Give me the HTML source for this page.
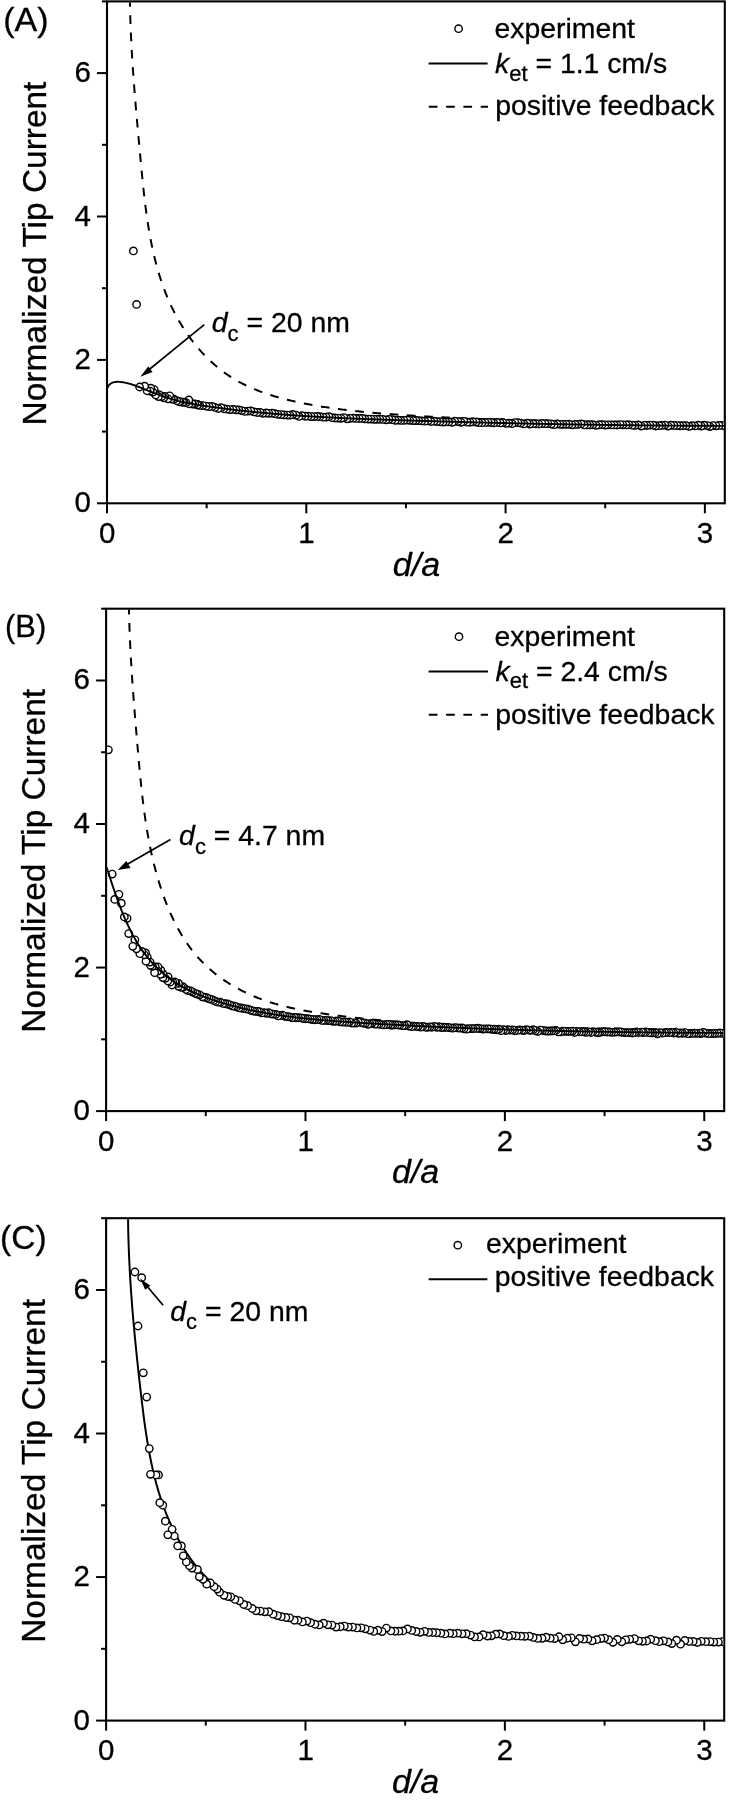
<!DOCTYPE html>
<html><head><meta charset="utf-8"><style>html,body{margin:0;padding:0;background:#fff;}svg{display:block;filter:grayscale(1);} text{stroke:#000;stroke-width:0.3px;}</style></head><body>
<svg width="729" height="1800" viewBox="0 0 729 1800" font-family='"Liberation Sans", sans-serif'>
<rect width="100%" height="100%" fill="#fff"/>
<clipPath id="clipA"><rect x="108" y="2.4" width="615.8" height="499.9"/></clipPath>
<clipPath id="clipB"><rect x="107.1" y="609.7" width="616.1" height="500.4"/></clipPath>
<clipPath id="clipC"><rect x="107.1" y="1219.2" width="616.1" height="500.4"/></clipPath>
<rect x="107" y="1.4" width="617.8" height="501.9" fill="none" stroke="#000" stroke-width="2.1"/>
<line x1="97" y1="503.3" x2="107" y2="503.3" stroke="#000" stroke-width="2"/>
<text x="90.8" y="512.3" font-size="29.5" text-anchor="end">0</text>
<line x1="102" y1="431.6" x2="107" y2="431.6" stroke="#000" stroke-width="2"/>
<line x1="97" y1="359.9" x2="107" y2="359.9" stroke="#000" stroke-width="2"/>
<text x="90.8" y="368.9" font-size="29.5" text-anchor="end">2</text>
<line x1="102" y1="288.2" x2="107" y2="288.2" stroke="#000" stroke-width="2"/>
<line x1="97" y1="216.5" x2="107" y2="216.5" stroke="#000" stroke-width="2"/>
<text x="90.8" y="225.5" font-size="29.5" text-anchor="end">4</text>
<line x1="102" y1="144.8" x2="107" y2="144.8" stroke="#000" stroke-width="2"/>
<line x1="97" y1="73.1" x2="107" y2="73.1" stroke="#000" stroke-width="2"/>
<text x="90.8" y="82.1" font-size="29.5" text-anchor="end">6</text>
<line x1="102" y1="1.4" x2="107" y2="1.4" stroke="#000" stroke-width="2"/>
<line x1="107" y1="503.3" x2="107" y2="513.3" stroke="#000" stroke-width="2"/>
<text x="107.2" y="542.7" font-size="29.5" text-anchor="middle">0</text>
<line x1="206.65" y1="503.3" x2="206.65" y2="508.3" stroke="#000" stroke-width="2"/>
<line x1="306.29" y1="503.3" x2="306.29" y2="513.3" stroke="#000" stroke-width="2"/>
<text x="306.49" y="542.7" font-size="29.5" text-anchor="middle">1</text>
<line x1="405.94" y1="503.3" x2="405.94" y2="508.3" stroke="#000" stroke-width="2"/>
<line x1="505.58" y1="503.3" x2="505.58" y2="513.3" stroke="#000" stroke-width="2"/>
<text x="505.78" y="542.7" font-size="29.5" text-anchor="middle">2</text>
<line x1="605.23" y1="503.3" x2="605.23" y2="508.3" stroke="#000" stroke-width="2"/>
<line x1="704.87" y1="503.3" x2="704.87" y2="513.3" stroke="#000" stroke-width="2"/>
<text x="705.07" y="542.7" font-size="29.5" text-anchor="middle">3</text>
<text transform="translate(45.8,253.5) rotate(-90)" font-size="33.45" text-anchor="middle">Normalized Tip Current</text>
<text x="416.5" y="575.5" font-size="34" font-style="italic" text-anchor="middle">d/a</text>
<text x="3.3" y="31.3" font-size="34">(A)</text>
<g clip-path="url(#clipA)">
<path d="M129.89,0.79L129.92,2.34L129.95,3.88L129.98,5.43L130.02,6.97L130.05,8.51L130.09,10.05L130.13,11.58L130.17,13.12L130.21,14.65L130.26,16.18L130.3,17.71L130.35,19.24L130.4,20.77L130.46,22.3L130.51,23.82L130.57,25.35L130.63,26.87L130.69,28.39L130.75,29.91L130.81,31.43L130.88,32.94L130.94,34.46L131.01,35.97L131.08,37.49L131.15,39L131.23,40.51L131.3,42.02L131.38,43.53L131.46,45.04L131.54,46.55L131.62,48.05L131.7,49.56L131.78,51.06L131.87,52.57L131.96,54.07L132.04,55.57L132.13,57.07L132.23,58.57L132.32,60.07L132.41,61.57L132.51,63.07L132.6,64.57L132.7,66.07L132.8,67.56L132.9,69.06L133,70.55L133.11,72.05L133.21,73.54L133.32,75.04L133.42,76.53L133.53,78.02L133.64,79.51L133.75,81.01L133.86,82.5L133.97,83.99L134.09,85.48L134.2,86.97L134.31,88.46L134.43,89.95L134.55,91.44L134.67,92.93L134.78,94.42L134.9,95.91L135.03,97.4L135.15,98.89L135.27,100.38L135.39,101.87L135.52,103.36L135.64,104.85L135.77,106.34L135.89,107.83L136.02,109.32L136.15,110.81L136.28,112.3L136.41,113.79L136.54,115.28L136.67,116.77L136.8,118.27L136.93,119.76L137.06,121.25L137.2,122.74L137.33,124.23L137.46,125.73L137.6,127.22L137.73,128.72L137.87,130.21L138.01,131.71L138.14,133.2L138.28,134.7L138.42,136.19L138.55,137.69L138.69,139.19L138.83,140.69L138.97,142.19L139.11,143.69L139.25,145.19L139.39,146.69L139.53,148.19L139.67,149.7L139.81,151.2L139.95,152.71L140.09,154.21L140.23,155.72L140.37,157.23L140.51,158.74L140.65,160.25L140.79,161.76L140.93,163.27L141.07,164.79L141.22,166.3L141.36,167.81L141.5,169.33L141.65,170.85L141.79,172.36L141.94,173.88L142.09,175.4L142.23,176.92L142.38,178.43L142.53,179.95L142.69,181.47L142.84,182.99L143,184.51L143.15,186.03L143.31,187.55L143.47,189.07L143.64,190.59L143.8,192.11L143.97,193.63L144.14,195.15L144.31,196.67L144.49,198.19L144.67,199.71L144.85,201.23L145.03,202.75L145.21,204.27L145.4,205.78L145.6,207.3L145.79,208.82L145.99,210.33L146.19,211.85L146.4,213.36L146.61,214.87L146.82,216.39L147.04,217.9L147.26,219.41L147.48,220.92L147.71,222.43L147.95,223.93L148.18,225.44L148.42,226.94L148.67,228.45L148.92,229.95L149.18,231.45L149.44,232.95L149.7,234.45L149.97,235.94L150.25,237.44L150.53,238.93L150.82,240.42L151.11,241.91L151.4,243.4L151.71,244.89L152.01,246.37L152.33,247.85L152.65,249.33L152.97,250.81L153.3,252.29L153.64,253.76L153.99,255.23L154.34,256.7L154.69,258.17L155.06,259.63L155.43,261.1L155.81,262.56L156.19,264.01L156.58,265.47L156.98,266.92L157.38,268.37L157.8,269.82L158.22,271.26L158.64,272.7L159.08,274.14L159.52,275.58L159.97,277.01L160.43,278.44L160.89,279.86L161.37,281.29L161.85,282.71L162.34,284.12L162.84,285.54L163.35,286.95L163.86,288.35L164.39,289.76L164.92,291.16L165.46,292.55L166.01,293.94L166.57,295.33L167.14,296.72L167.72,298.1L168.31,299.48L168.9,300.85L169.51,302.22L170.13,303.59L170.75,304.95L171.39,306.31L172.03,307.66L172.69,309.01L173.35,310.35L174.03,311.7L174.72,313.03L175.41,314.36L176.12,315.69L176.84,317.02L177.56,318.33L178.3,319.65L179.05,320.95L179.81,322.26L180.58,323.55L181.35,324.84L182.14,326.13L182.94,327.41L183.75,328.68L184.57,329.95L185.4,331.2L186.24,332.46L187.09,333.7L187.95,334.94L188.82,336.17L189.7,337.4L190.59,338.61L191.49,339.82L192.4,341.02L193.32,342.21L194.25,343.4L195.19,344.57L196.14,345.74L197.1,346.9L198.07,348.05L199.04,349.19L200.03,350.32L201.03,351.44L202.04,352.55L203.06,353.65L204.09,354.74L205.12,355.82L206.17,356.89L207.23,357.95L208.3,359L209.37,360.04L210.46,361.07L211.55,362.09L212.66,363.09L213.77,364.09L214.9,365.07L216.03,366.04L217.18,367L218.33,367.94L219.49,368.88L220.66,369.8L221.84,370.7L223.03,371.6L224.23,372.48L225.44,373.35L226.66,374.21L227.89,375.05L229.13,375.88L230.38,376.69L231.63,377.49L232.9,378.28L234.17,379.05L235.45,379.81L236.75,380.55L238.05,381.29L239.35,382.01L240.67,382.71L242,383.4L243.33,384.09L244.67,384.75L246.01,385.41L247.37,386.05L248.73,386.69L250.1,387.31L251.47,387.91L252.86,388.51L254.24,389.1L255.64,389.67L257.04,390.23L258.45,390.79L259.86,391.33L261.28,391.86L262.7,392.38L264.13,392.89L265.56,393.39L267,393.88L268.44,394.37L269.89,394.84L271.34,395.3L272.8,395.75L274.26,396.2L275.72,396.63L277.19,397.06L278.66,397.48L280.14,397.89L281.61,398.29L283.1,398.69L284.58,399.07L286.06,399.45L287.55,399.82L289.04,400.18L290.54,400.54L292.03,400.89L293.53,401.23L295.03,401.57L296.53,401.9L298.03,402.22L299.53,402.54L301.04,402.85L302.54,403.15L304.04,403.45L305.55,403.75L307.06,404.04L308.56,404.32L310.07,404.6L311.57,404.87L313.08,405.14L314.58,405.4L316.09,405.66L317.59,405.92L319.09,406.17L320.6,406.41L322.1,406.66L323.6,406.89L325.1,407.13L326.6,407.36L328.1,407.58L329.6,407.8L331.1,408.02L332.6,408.23L334.1,408.44L335.6,408.65L337.1,408.85L338.6,409.05L340.1,409.24L341.6,409.44L343.1,409.62L344.6,409.81L346.09,409.99L347.59,410.17L349.09,410.34L350.59,410.52L352.08,410.68L353.58,410.85L355.08,411.01L356.57,411.17L358.07,411.33L359.57,411.48L361.06,411.64L362.56,411.78L364.06,411.93L365.55,412.07L367.05,412.22L368.55,412.36L370.04,412.49L371.54,412.63L373.04,412.76L374.53,412.89L376.03,413.02L377.52,413.14L379.02,413.27L380.52,413.39L382.02,413.51L383.51,413.63L385.01,413.74L386.51,413.86L388,413.97L389.5,414.09L391,414.2L392.5,414.3L393.99,414.41L395.49,414.52L396.99,414.62L398.49,414.73L399.99,414.83L401.49,414.93L402.99,415.03L404.49,415.13L405.99,415.23L407.49,415.33L408.99,415.43L410.49,415.52L411.99,415.62L413.49,415.71L414.99,415.8L416.49,415.89L418,415.98L419.5,416.07L421,416.16L422.5,416.25L424.01,416.34L425.51,416.42L427.01,416.51L428.51,416.59L430.02,416.67L431.52,416.75L433.03,416.83L434.53,416.91L436.03,416.99L437.54,417.07L439.04,417.15L440.55,417.22L442.05,417.3L443.56,417.37L445.06,417.45L446.57,417.52L448.08,417.59L449.58,417.66L451.09,417.73L452.59,417.8L454.1,417.87L455.61,417.94L457.11,418L458.62,418.07L460.13,418.13L461.63,418.2L463.14,418.26L464.65,418.32L466.16,418.38L467.67,418.45L469.17,418.51L470.68,418.57L472.19,418.62L473.7,418.68L475.21,418.74L476.72,418.8L478.22,418.85L479.73,418.91L481.24,418.96L482.75,419.01L484.26,419.07L485.77,419.12L487.28,419.17L488.79,419.22L490.3,419.27L491.81,419.32L493.32,419.37L494.83,419.42L496.34,419.47L497.85,419.51L499.36,419.56L500.87,419.61L502.38,419.65L503.89,419.7L505.41,419.74L506.92,419.79L508.43,419.83L509.94,419.87L511.45,419.91L512.96,419.95L514.47,419.99L515.99,420.04L517.5,420.07L519.01,420.11L520.52,420.15L522.03,420.19L523.54,420.23L525.06,420.27L526.57,420.3L528.08,420.34L529.59,420.37L531.11,420.41L532.62,420.45L534.13,420.48L535.64,420.51L537.16,420.55L538.67,420.58L540.18,420.61L541.69,420.65L543.21,420.68L544.72,420.71L546.23,420.74L547.75,420.77L549.26,420.8L550.77,420.83L552.28,420.86L553.8,420.89L555.31,420.92L556.82,420.95L558.34,420.98L559.85,421.01L561.36,421.03L562.88,421.06L564.39,421.09L565.9,421.11L567.42,421.14L568.93,421.17L570.44,421.19L571.96,421.22L573.47,421.25L574.98,421.27L576.5,421.3L578.01,421.32L579.52,421.35L581.04,421.37L582.55,421.39L584.06,421.42L585.58,421.44L587.09,421.47L588.6,421.49L590.11,421.51L591.63,421.54L593.14,421.56L594.65,421.58L596.17,421.6L597.68,421.63L599.19,421.65L600.71,421.67L602.22,421.69L603.73,421.72L605.25,421.74L606.76,421.76L608.27,421.78L609.78,421.81L611.3,421.83L612.81,421.85L614.32,421.87L615.83,421.89L617.35,421.91L618.86,421.94L620.37,421.96L621.88,421.98L623.4,422L624.91,422.02L626.42,422.04L627.93,422.07L629.44,422.09L630.96,422.11L632.47,422.13L633.98,422.15L635.49,422.17L637,422.2L638.52,422.22L640.03,422.24L641.54,422.26L643.05,422.28L644.56,422.31L646.07,422.33L647.58,422.35L649.09,422.37L650.6,422.4L652.11,422.42L653.63,422.44L655.14,422.47L656.65,422.49L658.16,422.51L659.67,422.54L661.18,422.56L662.69,422.59L664.2,422.61L665.71,422.64L667.21,422.66L668.72,422.69L670.23,422.71L671.74,422.74L673.25,422.76L674.76,422.79L676.27,422.81L677.78,422.84L679.29,422.87L680.79,422.89L682.3,422.92L683.81,422.95L685.32,422.98L686.83,423.01L688.33,423.03L689.84,423.06L691.35,423.09L692.86,423.12L694.36,423.15L695.87,423.18L697.38,423.21L698.88,423.24L700.39,423.28L701.89,423.31L703.4,423.34L704.91,423.37L706.41,423.41L707.92,423.44L709.42,423.47L710.93,423.51L712.43,423.54L713.94,423.58L715.44,423.61L716.94,423.65L718.45,423.68L719.95,423.72L721.46,423.76L722.96,423.8L724.46,423.84L725.97,423.88" fill="none" stroke="#000" stroke-width="2" stroke-dasharray="8.7 8.6" stroke-dashoffset="2.8"/>
<circle cx="728.14" cy="425.68" r="3.7" fill="#fff" stroke="#000" stroke-width="1.4"/>
<circle cx="725.21" cy="426.22" r="3.7" fill="#fff" stroke="#000" stroke-width="1.4"/>
<circle cx="722.16" cy="425.44" r="3.7" fill="#fff" stroke="#000" stroke-width="1.4"/>
<circle cx="719.16" cy="425.43" r="3.7" fill="#fff" stroke="#000" stroke-width="1.4"/>
<circle cx="715.98" cy="425.81" r="3.7" fill="#fff" stroke="#000" stroke-width="1.4"/>
<circle cx="712.74" cy="425.54" r="3.7" fill="#fff" stroke="#000" stroke-width="1.4"/>
<circle cx="709.89" cy="426.6" r="3.7" fill="#fff" stroke="#000" stroke-width="1.4"/>
<circle cx="707.25" cy="425.56" r="3.7" fill="#fff" stroke="#000" stroke-width="1.4"/>
<circle cx="704" cy="425.19" r="3.7" fill="#fff" stroke="#000" stroke-width="1.4"/>
<circle cx="701.28" cy="426.02" r="3.7" fill="#fff" stroke="#000" stroke-width="1.4"/>
<circle cx="698.26" cy="425.27" r="3.7" fill="#fff" stroke="#000" stroke-width="1.4"/>
<circle cx="694.77" cy="425.88" r="3.7" fill="#fff" stroke="#000" stroke-width="1.4"/>
<circle cx="691.81" cy="425.75" r="3.7" fill="#fff" stroke="#000" stroke-width="1.4"/>
<circle cx="689.17" cy="426.37" r="3.7" fill="#fff" stroke="#000" stroke-width="1.4"/>
<circle cx="686.02" cy="425.67" r="3.7" fill="#fff" stroke="#000" stroke-width="1.4"/>
<circle cx="683.01" cy="425.67" r="3.7" fill="#fff" stroke="#000" stroke-width="1.4"/>
<circle cx="680.02" cy="425.77" r="3.7" fill="#fff" stroke="#000" stroke-width="1.4"/>
<circle cx="677.1" cy="425.57" r="3.7" fill="#fff" stroke="#000" stroke-width="1.4"/>
<circle cx="673.99" cy="425.45" r="3.7" fill="#fff" stroke="#000" stroke-width="1.4"/>
<circle cx="670.81" cy="425.27" r="3.7" fill="#fff" stroke="#000" stroke-width="1.4"/>
<circle cx="668" cy="426.1" r="3.7" fill="#fff" stroke="#000" stroke-width="1.4"/>
<circle cx="664.84" cy="425.08" r="3.7" fill="#fff" stroke="#000" stroke-width="1.4"/>
<circle cx="661.85" cy="425.46" r="3.7" fill="#fff" stroke="#000" stroke-width="1.4"/>
<circle cx="659.23" cy="425.7" r="3.7" fill="#fff" stroke="#000" stroke-width="1.4"/>
<circle cx="655.73" cy="426.01" r="3.7" fill="#fff" stroke="#000" stroke-width="1.4"/>
<circle cx="653.13" cy="425.14" r="3.7" fill="#fff" stroke="#000" stroke-width="1.4"/>
<circle cx="649.89" cy="425.04" r="3.7" fill="#fff" stroke="#000" stroke-width="1.4"/>
<circle cx="646.98" cy="425.51" r="3.7" fill="#fff" stroke="#000" stroke-width="1.4"/>
<circle cx="644.16" cy="425.3" r="3.7" fill="#fff" stroke="#000" stroke-width="1.4"/>
<circle cx="641.25" cy="426.05" r="3.7" fill="#fff" stroke="#000" stroke-width="1.4"/>
<circle cx="638.15" cy="424.96" r="3.7" fill="#fff" stroke="#000" stroke-width="1.4"/>
<circle cx="635.04" cy="425.35" r="3.7" fill="#fff" stroke="#000" stroke-width="1.4"/>
<circle cx="632.29" cy="425.14" r="3.7" fill="#fff" stroke="#000" stroke-width="1.4"/>
<circle cx="628.77" cy="424.73" r="3.7" fill="#fff" stroke="#000" stroke-width="1.4"/>
<circle cx="626.2" cy="424.91" r="3.7" fill="#fff" stroke="#000" stroke-width="1.4"/>
<circle cx="622.79" cy="424.84" r="3.7" fill="#fff" stroke="#000" stroke-width="1.4"/>
<circle cx="620.16" cy="424.55" r="3.7" fill="#fff" stroke="#000" stroke-width="1.4"/>
<circle cx="616.93" cy="424.99" r="3.7" fill="#fff" stroke="#000" stroke-width="1.4"/>
<circle cx="614.2" cy="424.9" r="3.7" fill="#fff" stroke="#000" stroke-width="1.4"/>
<circle cx="611.13" cy="424.97" r="3.7" fill="#fff" stroke="#000" stroke-width="1.4"/>
<circle cx="607.93" cy="424.83" r="3.7" fill="#fff" stroke="#000" stroke-width="1.4"/>
<circle cx="605.21" cy="425.09" r="3.7" fill="#fff" stroke="#000" stroke-width="1.4"/>
<circle cx="601.95" cy="424.65" r="3.7" fill="#fff" stroke="#000" stroke-width="1.4"/>
<circle cx="598.97" cy="424.81" r="3.7" fill="#fff" stroke="#000" stroke-width="1.4"/>
<circle cx="596.15" cy="425.32" r="3.7" fill="#fff" stroke="#000" stroke-width="1.4"/>
<circle cx="592.81" cy="424.67" r="3.7" fill="#fff" stroke="#000" stroke-width="1.4"/>
<circle cx="589.94" cy="424.77" r="3.7" fill="#fff" stroke="#000" stroke-width="1.4"/>
<circle cx="587.21" cy="424.89" r="3.7" fill="#fff" stroke="#000" stroke-width="1.4"/>
<circle cx="584.3" cy="424.95" r="3.7" fill="#fff" stroke="#000" stroke-width="1.4"/>
<circle cx="581.09" cy="423.92" r="3.7" fill="#fff" stroke="#000" stroke-width="1.4"/>
<circle cx="577.81" cy="424.31" r="3.7" fill="#fff" stroke="#000" stroke-width="1.4"/>
<circle cx="575.24" cy="424.46" r="3.7" fill="#fff" stroke="#000" stroke-width="1.4"/>
<circle cx="572.02" cy="424.83" r="3.7" fill="#fff" stroke="#000" stroke-width="1.4"/>
<circle cx="568.81" cy="424.26" r="3.7" fill="#fff" stroke="#000" stroke-width="1.4"/>
<circle cx="566.01" cy="424.34" r="3.7" fill="#fff" stroke="#000" stroke-width="1.4"/>
<circle cx="562.92" cy="424.34" r="3.7" fill="#fff" stroke="#000" stroke-width="1.4"/>
<circle cx="560.2" cy="424.34" r="3.7" fill="#fff" stroke="#000" stroke-width="1.4"/>
<circle cx="557.14" cy="423.99" r="3.7" fill="#fff" stroke="#000" stroke-width="1.4"/>
<circle cx="554.13" cy="424.7" r="3.7" fill="#fff" stroke="#000" stroke-width="1.4"/>
<circle cx="551.23" cy="424.04" r="3.7" fill="#fff" stroke="#000" stroke-width="1.4"/>
<circle cx="547.81" cy="423.53" r="3.7" fill="#fff" stroke="#000" stroke-width="1.4"/>
<circle cx="545.2" cy="423.69" r="3.7" fill="#fff" stroke="#000" stroke-width="1.4"/>
<circle cx="541.86" cy="423.5" r="3.7" fill="#fff" stroke="#000" stroke-width="1.4"/>
<circle cx="538.75" cy="424" r="3.7" fill="#fff" stroke="#000" stroke-width="1.4"/>
<circle cx="535.78" cy="423.76" r="3.7" fill="#fff" stroke="#000" stroke-width="1.4"/>
<circle cx="533.16" cy="423.71" r="3.7" fill="#fff" stroke="#000" stroke-width="1.4"/>
<circle cx="529.88" cy="424.02" r="3.7" fill="#fff" stroke="#000" stroke-width="1.4"/>
<circle cx="527.15" cy="423.16" r="3.7" fill="#fff" stroke="#000" stroke-width="1.4"/>
<circle cx="523.97" cy="423.97" r="3.7" fill="#fff" stroke="#000" stroke-width="1.4"/>
<circle cx="520.85" cy="423.19" r="3.7" fill="#fff" stroke="#000" stroke-width="1.4"/>
<circle cx="518.02" cy="422.68" r="3.7" fill="#fff" stroke="#000" stroke-width="1.4"/>
<circle cx="514.93" cy="422.53" r="3.7" fill="#fff" stroke="#000" stroke-width="1.4"/>
<circle cx="512.1" cy="423.65" r="3.7" fill="#fff" stroke="#000" stroke-width="1.4"/>
<circle cx="508.93" cy="423.2" r="3.7" fill="#fff" stroke="#000" stroke-width="1.4"/>
<circle cx="506.09" cy="423.37" r="3.7" fill="#fff" stroke="#000" stroke-width="1.4"/>
<circle cx="502.85" cy="422.52" r="3.7" fill="#fff" stroke="#000" stroke-width="1.4"/>
<circle cx="500.27" cy="422.94" r="3.7" fill="#fff" stroke="#000" stroke-width="1.4"/>
<circle cx="496.83" cy="422.4" r="3.7" fill="#fff" stroke="#000" stroke-width="1.4"/>
<circle cx="493.72" cy="422.94" r="3.7" fill="#fff" stroke="#000" stroke-width="1.4"/>
<circle cx="491.24" cy="422.48" r="3.7" fill="#fff" stroke="#000" stroke-width="1.4"/>
<circle cx="488.13" cy="422.37" r="3.7" fill="#fff" stroke="#000" stroke-width="1.4"/>
<circle cx="485.18" cy="422.38" r="3.7" fill="#fff" stroke="#000" stroke-width="1.4"/>
<circle cx="482.08" cy="422.68" r="3.7" fill="#fff" stroke="#000" stroke-width="1.4"/>
<circle cx="478.76" cy="422.63" r="3.7" fill="#fff" stroke="#000" stroke-width="1.4"/>
<circle cx="476.08" cy="422.04" r="3.7" fill="#fff" stroke="#000" stroke-width="1.4"/>
<circle cx="472.82" cy="421.77" r="3.7" fill="#fff" stroke="#000" stroke-width="1.4"/>
<circle cx="470.16" cy="422.24" r="3.7" fill="#fff" stroke="#000" stroke-width="1.4"/>
<circle cx="467.18" cy="422.17" r="3.7" fill="#fff" stroke="#000" stroke-width="1.4"/>
<circle cx="463.89" cy="421.33" r="3.7" fill="#fff" stroke="#000" stroke-width="1.4"/>
<circle cx="461.08" cy="422.29" r="3.7" fill="#fff" stroke="#000" stroke-width="1.4"/>
<circle cx="457.89" cy="421.55" r="3.7" fill="#fff" stroke="#000" stroke-width="1.4"/>
<circle cx="454.73" cy="421.23" r="3.7" fill="#fff" stroke="#000" stroke-width="1.4"/>
<circle cx="452.28" cy="422.27" r="3.7" fill="#fff" stroke="#000" stroke-width="1.4"/>
<circle cx="448.72" cy="421.96" r="3.7" fill="#fff" stroke="#000" stroke-width="1.4"/>
<circle cx="445.81" cy="421.88" r="3.7" fill="#fff" stroke="#000" stroke-width="1.4"/>
<circle cx="443.09" cy="422.03" r="3.7" fill="#fff" stroke="#000" stroke-width="1.4"/>
<circle cx="440.02" cy="421.73" r="3.7" fill="#fff" stroke="#000" stroke-width="1.4"/>
<circle cx="436.89" cy="421.59" r="3.7" fill="#fff" stroke="#000" stroke-width="1.4"/>
<circle cx="434.11" cy="421.19" r="3.7" fill="#fff" stroke="#000" stroke-width="1.4"/>
<circle cx="431.05" cy="421.48" r="3.7" fill="#fff" stroke="#000" stroke-width="1.4"/>
<circle cx="428.04" cy="420.86" r="3.7" fill="#fff" stroke="#000" stroke-width="1.4"/>
<circle cx="424.85" cy="421.21" r="3.7" fill="#fff" stroke="#000" stroke-width="1.4"/>
<circle cx="421.71" cy="420.88" r="3.7" fill="#fff" stroke="#000" stroke-width="1.4"/>
<circle cx="418.73" cy="420.68" r="3.7" fill="#fff" stroke="#000" stroke-width="1.4"/>
<circle cx="416.01" cy="420.52" r="3.7" fill="#fff" stroke="#000" stroke-width="1.4"/>
<circle cx="413.18" cy="420.6" r="3.7" fill="#fff" stroke="#000" stroke-width="1.4"/>
<circle cx="409.77" cy="420.33" r="3.7" fill="#fff" stroke="#000" stroke-width="1.4"/>
<circle cx="407.19" cy="420" r="3.7" fill="#fff" stroke="#000" stroke-width="1.4"/>
<circle cx="403.95" cy="420.28" r="3.7" fill="#fff" stroke="#000" stroke-width="1.4"/>
<circle cx="400.81" cy="420.39" r="3.7" fill="#fff" stroke="#000" stroke-width="1.4"/>
<circle cx="398.08" cy="420.16" r="3.7" fill="#fff" stroke="#000" stroke-width="1.4"/>
<circle cx="395.28" cy="420.31" r="3.7" fill="#fff" stroke="#000" stroke-width="1.4"/>
<circle cx="392.1" cy="419.72" r="3.7" fill="#fff" stroke="#000" stroke-width="1.4"/>
<circle cx="388.99" cy="419.33" r="3.7" fill="#fff" stroke="#000" stroke-width="1.4"/>
<circle cx="386.2" cy="419.87" r="3.7" fill="#fff" stroke="#000" stroke-width="1.4"/>
<circle cx="382.83" cy="419.4" r="3.7" fill="#fff" stroke="#000" stroke-width="1.4"/>
<circle cx="379.82" cy="419.25" r="3.7" fill="#fff" stroke="#000" stroke-width="1.4"/>
<circle cx="376.9" cy="419.33" r="3.7" fill="#fff" stroke="#000" stroke-width="1.4"/>
<circle cx="374.13" cy="419.34" r="3.7" fill="#fff" stroke="#000" stroke-width="1.4"/>
<circle cx="371.18" cy="419.11" r="3.7" fill="#fff" stroke="#000" stroke-width="1.4"/>
<circle cx="368.27" cy="419.12" r="3.7" fill="#fff" stroke="#000" stroke-width="1.4"/>
<circle cx="364.96" cy="418.94" r="3.7" fill="#fff" stroke="#000" stroke-width="1.4"/>
<circle cx="362.25" cy="418.44" r="3.7" fill="#fff" stroke="#000" stroke-width="1.4"/>
<circle cx="359.23" cy="418.5" r="3.7" fill="#fff" stroke="#000" stroke-width="1.4"/>
<circle cx="356.05" cy="418.46" r="3.7" fill="#fff" stroke="#000" stroke-width="1.4"/>
<circle cx="353.24" cy="418.19" r="3.7" fill="#fff" stroke="#000" stroke-width="1.4"/>
<circle cx="350.01" cy="418.3" r="3.7" fill="#fff" stroke="#000" stroke-width="1.4"/>
<circle cx="346.97" cy="418.77" r="3.7" fill="#fff" stroke="#000" stroke-width="1.4"/>
<circle cx="343.86" cy="417.59" r="3.7" fill="#fff" stroke="#000" stroke-width="1.4"/>
<circle cx="341.04" cy="418.27" r="3.7" fill="#fff" stroke="#000" stroke-width="1.4"/>
<circle cx="337.91" cy="418.12" r="3.7" fill="#fff" stroke="#000" stroke-width="1.4"/>
<circle cx="334.92" cy="418.01" r="3.7" fill="#fff" stroke="#000" stroke-width="1.4"/>
<circle cx="331.84" cy="417.69" r="3.7" fill="#fff" stroke="#000" stroke-width="1.4"/>
<circle cx="329.01" cy="416.72" r="3.7" fill="#fff" stroke="#000" stroke-width="1.4"/>
<circle cx="326.08" cy="417.06" r="3.7" fill="#fff" stroke="#000" stroke-width="1.4"/>
<circle cx="323.19" cy="417.18" r="3.7" fill="#fff" stroke="#000" stroke-width="1.4"/>
<circle cx="319.78" cy="416.63" r="3.7" fill="#fff" stroke="#000" stroke-width="1.4"/>
<circle cx="317.15" cy="416.41" r="3.7" fill="#fff" stroke="#000" stroke-width="1.4"/>
<circle cx="314.26" cy="416.59" r="3.7" fill="#fff" stroke="#000" stroke-width="1.4"/>
<circle cx="311.25" cy="416.62" r="3.7" fill="#fff" stroke="#000" stroke-width="1.4"/>
<circle cx="308.01" cy="416.17" r="3.7" fill="#fff" stroke="#000" stroke-width="1.4"/>
<circle cx="305.11" cy="416.23" r="3.7" fill="#fff" stroke="#000" stroke-width="1.4"/>
<circle cx="301.91" cy="415.64" r="3.7" fill="#fff" stroke="#000" stroke-width="1.4"/>
<circle cx="299.01" cy="416.45" r="3.7" fill="#fff" stroke="#000" stroke-width="1.4"/>
<circle cx="296.09" cy="415.15" r="3.7" fill="#fff" stroke="#000" stroke-width="1.4"/>
<circle cx="292.77" cy="414.52" r="3.7" fill="#fff" stroke="#000" stroke-width="1.4"/>
<circle cx="289.92" cy="415.15" r="3.7" fill="#fff" stroke="#000" stroke-width="1.4"/>
<circle cx="287.15" cy="415.03" r="3.7" fill="#fff" stroke="#000" stroke-width="1.4"/>
<circle cx="284.03" cy="414.96" r="3.7" fill="#fff" stroke="#000" stroke-width="1.4"/>
<circle cx="281.23" cy="414.61" r="3.7" fill="#fff" stroke="#000" stroke-width="1.4"/>
<circle cx="277.84" cy="414.33" r="3.7" fill="#fff" stroke="#000" stroke-width="1.4"/>
<circle cx="274.93" cy="413.71" r="3.7" fill="#fff" stroke="#000" stroke-width="1.4"/>
<circle cx="272.08" cy="413.24" r="3.7" fill="#fff" stroke="#000" stroke-width="1.4"/>
<circle cx="268.81" cy="413.3" r="3.7" fill="#fff" stroke="#000" stroke-width="1.4"/>
<circle cx="266.26" cy="413.01" r="3.7" fill="#fff" stroke="#000" stroke-width="1.4"/>
<circle cx="262.79" cy="413.34" r="3.7" fill="#fff" stroke="#000" stroke-width="1.4"/>
<circle cx="260.24" cy="412.44" r="3.7" fill="#fff" stroke="#000" stroke-width="1.4"/>
<circle cx="257.21" cy="412.51" r="3.7" fill="#fff" stroke="#000" stroke-width="1.4"/>
<circle cx="254.1" cy="411.93" r="3.7" fill="#fff" stroke="#000" stroke-width="1.4"/>
<circle cx="250.88" cy="410.95" r="3.7" fill="#fff" stroke="#000" stroke-width="1.4"/>
<circle cx="247.83" cy="411.05" r="3.7" fill="#fff" stroke="#000" stroke-width="1.4"/>
<circle cx="244.76" cy="411.4" r="3.7" fill="#fff" stroke="#000" stroke-width="1.4"/>
<circle cx="241.84" cy="410.61" r="3.7" fill="#fff" stroke="#000" stroke-width="1.4"/>
<circle cx="238.79" cy="409.92" r="3.7" fill="#fff" stroke="#000" stroke-width="1.4"/>
<circle cx="236.08" cy="409.87" r="3.7" fill="#fff" stroke="#000" stroke-width="1.4"/>
<circle cx="233.05" cy="409.44" r="3.7" fill="#fff" stroke="#000" stroke-width="1.4"/>
<circle cx="229.93" cy="409.53" r="3.7" fill="#fff" stroke="#000" stroke-width="1.4"/>
<circle cx="226.79" cy="409.15" r="3.7" fill="#fff" stroke="#000" stroke-width="1.4"/>
<circle cx="223.93" cy="408.75" r="3.7" fill="#fff" stroke="#000" stroke-width="1.4"/>
<circle cx="221.06" cy="407.76" r="3.7" fill="#fff" stroke="#000" stroke-width="1.4"/>
<circle cx="218.22" cy="408.5" r="3.7" fill="#fff" stroke="#000" stroke-width="1.4"/>
<circle cx="215.02" cy="407.41" r="3.7" fill="#fff" stroke="#000" stroke-width="1.4"/>
<circle cx="212.15" cy="406.43" r="3.7" fill="#fff" stroke="#000" stroke-width="1.4"/>
<circle cx="209.21" cy="406.58" r="3.7" fill="#fff" stroke="#000" stroke-width="1.4"/>
<circle cx="206.23" cy="406.14" r="3.7" fill="#fff" stroke="#000" stroke-width="1.4"/>
<circle cx="202.79" cy="405.57" r="3.7" fill="#fff" stroke="#000" stroke-width="1.4"/>
<circle cx="199.7" cy="405.45" r="3.7" fill="#fff" stroke="#000" stroke-width="1.4"/>
<circle cx="197.82" cy="404.5" r="3.7" fill="#fff" stroke="#000" stroke-width="1.4"/>
<circle cx="197.4" cy="405" r="3.7" fill="#fff" stroke="#000" stroke-width="1.4"/>
<circle cx="194.82" cy="404.02" r="3.7" fill="#fff" stroke="#000" stroke-width="1.4"/>
<circle cx="192.6" cy="404" r="3.7" fill="#fff" stroke="#000" stroke-width="1.4"/>
<circle cx="192" cy="403.81" r="3.7" fill="#fff" stroke="#000" stroke-width="1.4"/>
<circle cx="189.08" cy="403.76" r="3.7" fill="#fff" stroke="#000" stroke-width="1.4"/>
<circle cx="188.8" cy="399.9" r="3.7" fill="#fff" stroke="#000" stroke-width="1.4"/>
<circle cx="185.98" cy="402.64" r="3.7" fill="#fff" stroke="#000" stroke-width="1.4"/>
<circle cx="184" cy="402.1" r="3.7" fill="#fff" stroke="#000" stroke-width="1.4"/>
<circle cx="182.72" cy="402.23" r="3.7" fill="#fff" stroke="#000" stroke-width="1.4"/>
<circle cx="180.07" cy="401.98" r="3.7" fill="#fff" stroke="#000" stroke-width="1.4"/>
<circle cx="179.2" cy="401.6" r="3.7" fill="#fff" stroke="#000" stroke-width="1.4"/>
<circle cx="176.83" cy="400.75" r="3.7" fill="#fff" stroke="#000" stroke-width="1.4"/>
<circle cx="174.07" cy="399.14" r="3.7" fill="#fff" stroke="#000" stroke-width="1.4"/>
<circle cx="173.4" cy="399.2" r="3.7" fill="#fff" stroke="#000" stroke-width="1.4"/>
<circle cx="171.3" cy="398.98" r="3.7" fill="#fff" stroke="#000" stroke-width="1.4"/>
<circle cx="169.6" cy="395.8" r="3.7" fill="#fff" stroke="#000" stroke-width="1.4"/>
<circle cx="168" cy="398.86" r="3.7" fill="#fff" stroke="#000" stroke-width="1.4"/>
<circle cx="164.85" cy="396.5" r="3.7" fill="#fff" stroke="#000" stroke-width="1.4"/>
<circle cx="163.8" cy="397.8" r="3.7" fill="#fff" stroke="#000" stroke-width="1.4"/>
<circle cx="161.88" cy="396.49" r="3.7" fill="#fff" stroke="#000" stroke-width="1.4"/>
<circle cx="159.18" cy="394.72" r="3.7" fill="#fff" stroke="#000" stroke-width="1.4"/>
<circle cx="158.5" cy="396.6" r="3.7" fill="#fff" stroke="#000" stroke-width="1.4"/>
<circle cx="155.7" cy="394.98" r="3.7" fill="#fff" stroke="#000" stroke-width="1.4"/>
<circle cx="154.2" cy="389.6" r="3.7" fill="#fff" stroke="#000" stroke-width="1.4"/>
<circle cx="152.88" cy="392.02" r="3.7" fill="#fff" stroke="#000" stroke-width="1.4"/>
<circle cx="150.8" cy="388.2" r="3.7" fill="#fff" stroke="#000" stroke-width="1.4"/>
<circle cx="150.17" cy="391.03" r="3.7" fill="#fff" stroke="#000" stroke-width="1.4"/>
<circle cx="147.08" cy="390.75" r="3.7" fill="#fff" stroke="#000" stroke-width="1.4"/>
<circle cx="144.6" cy="386.2" r="3.7" fill="#fff" stroke="#000" stroke-width="1.4"/>
<circle cx="139.6" cy="387" r="3.7" fill="#fff" stroke="#000" stroke-width="1.4"/>
<circle cx="136.6" cy="304.4" r="3.7" fill="#fff" stroke="#000" stroke-width="1.4"/>
<circle cx="133.4" cy="250.9" r="3.7" fill="#fff" stroke="#000" stroke-width="1.4"/>
<path d="M106.63,390.58L106.9,389.3L107.27,388.14L107.71,387.1L108.22,386.17L108.8,385.34L109.45,384.62L110.16,383.99L110.92,383.45L111.73,382.99L112.58,382.62L113.48,382.32L114.41,382.1L115.37,381.94L116.37,381.84L117.38,381.79L118.42,381.8L119.47,381.85L120.53,381.94L121.59,382.07L122.66,382.23L123.72,382.41L124.78,382.61L125.83,382.83L126.88,383.07L127.92,383.33L128.95,383.6L129.98,383.89L131,384.19L132.02,384.51L133.03,384.83L134.04,385.17L135.04,385.52L136.04,385.88L137.04,386.24L138.03,386.62L139.02,386.99L140.01,387.38L141,387.77L141.98,388.16L142.96,388.55L143.94,388.95L144.92,389.34L145.9,389.74L146.88,390.13L147.86,390.52L148.84,390.91L149.82,391.3L150.79,391.69L151.77,392.07L152.75,392.46L153.72,392.84L154.7,393.22L155.68,393.6L156.66,393.97L157.63,394.34L158.61,394.71L159.59,395.07L160.57,395.43L161.55,395.78L162.53,396.14L163.52,396.48L164.5,396.83L165.49,397.17L166.47,397.5L167.46,397.83L168.45,398.15L169.44,398.47L170.43,398.78L171.42,399.09L172.42,399.39L173.42,399.69L174.42,399.97L175.42,400.26L176.42,400.53L177.43,400.8L178.44,401.06L179.45,401.31L180.46,401.56L181.48,401.8L182.5,402.03L183.52,402.25L184.54,402.47L185.56,402.68L186.59,402.89L187.62,403.09L188.65,403.29L189.68,403.48L190.71,403.66L191.75,403.84L192.78,404.02L193.82,404.2L194.86,404.37L195.9,404.54L196.93,404.7L197.97,404.87L199.01,405.03L200.05,405.19L201.09,405.35L202.13,405.51L203.17,405.66L204.21,405.82L205.25,405.98L206.29,406.13L207.33,406.28L208.37,406.43L209.41,406.58L210.45,406.73L211.49,406.88L212.53,407.02L213.58,407.17L214.62,407.31L215.66,407.45L216.7,407.6L217.74,407.74L218.78,407.88L219.82,408.01L220.86,408.15L221.91,408.29L222.95,408.42L223.99,408.56L225.03,408.69L226.07,408.82L227.11,408.95L228.16,409.08L229.2,409.21L230.24,409.33L231.28,409.46L232.32,409.59L233.37,409.71L234.41,409.83L235.45,409.96L236.49,410.08L237.54,410.2L238.58,410.32L239.62,410.43L240.67,410.55L241.71,410.67L242.75,410.78L243.8,410.89L244.84,411.01L245.88,411.12L246.93,411.23L247.97,411.34L249.01,411.45L250.06,411.56L251.1,411.67L252.14,411.77L253.19,411.88L254.23,411.98L255.28,412.08L256.32,412.19L257.36,412.29L258.41,412.39L259.45,412.49L260.5,412.59L261.54,412.69L262.59,412.78L263.63,412.88L264.67,412.98L265.72,413.07L266.76,413.16L267.81,413.26L268.85,413.35L269.9,413.44L270.94,413.53L271.99,413.62L273.03,413.71L274.08,413.8L275.12,413.88L276.17,413.97L277.21,414.06L278.26,414.14L279.31,414.22L280.35,414.31L281.4,414.39L282.44,414.47L283.49,414.55L284.53,414.63L285.58,414.71L286.62,414.79L287.67,414.87L288.72,414.94L289.76,415.02L290.81,415.1L291.85,415.17L292.9,415.25L293.95,415.32L294.99,415.39L296.04,415.46L297.09,415.54L298.13,415.61L299.18,415.68L300.23,415.75L301.27,415.82L302.32,415.88L303.36,415.95L304.41,416.02L305.46,416.08L306.51,416.15L307.55,416.21L308.6,416.28L309.65,416.34L310.69,416.41L311.74,416.47L312.79,416.53L313.83,416.59L314.88,416.65L315.93,416.71L316.98,416.77L318.02,416.83L319.07,416.89L320.12,416.95L321.16,417.01L322.21,417.06L323.26,417.12L324.31,417.17L325.35,417.23L326.4,417.28L327.45,417.34L328.5,417.39L329.54,417.45L330.59,417.5L331.64,417.55L332.69,417.6L333.74,417.65L334.78,417.71L335.83,417.76L336.88,417.81L337.93,417.85L338.97,417.9L340.02,417.95L341.07,418L342.12,418.05L343.17,418.1L344.21,418.14L345.26,418.19L346.31,418.24L347.36,418.28L348.41,418.33L349.45,418.37L350.5,418.42L351.55,418.46L352.6,418.5L353.65,418.55L354.7,418.59L355.74,418.63L356.79,418.68L357.84,418.72L358.89,418.76L359.94,418.8L360.99,418.84L362.03,418.88L363.08,418.92L364.13,418.96L365.18,419L366.23,419.04L367.28,419.08L368.33,419.12L369.37,419.16L370.42,419.2L371.47,419.24L372.52,419.28L373.57,419.31L374.62,419.35L375.67,419.39L376.71,419.42L377.76,419.46L378.81,419.5L379.86,419.53L380.91,419.57L381.96,419.61L383.01,419.64L384.05,419.68L385.1,419.71L386.15,419.75L387.2,419.78L388.25,419.82L389.3,419.85L390.35,419.89L391.4,419.92L392.44,419.96L393.49,419.99L394.54,420.03L395.59,420.06L396.64,420.09L397.69,420.13L398.74,420.16L399.79,420.19L400.83,420.23L401.88,420.26L402.93,420.29L403.98,420.33L405.03,420.36L406.08,420.39L407.13,420.43L408.18,420.46L409.22,420.49L410.27,420.52L411.32,420.56L412.37,420.59L413.42,420.62L414.47,420.65L415.52,420.69L416.57,420.72L417.61,420.75L418.66,420.78L419.71,420.81L420.76,420.84L421.81,420.88L422.86,420.91L423.91,420.94L424.96,420.97L426,421L427.05,421.03L428.1,421.06L429.15,421.09L430.2,421.13L431.25,421.16L432.3,421.19L433.35,421.22L434.39,421.25L435.44,421.28L436.49,421.31L437.54,421.34L438.59,421.37L439.64,421.4L440.69,421.43L441.74,421.46L442.78,421.49L443.83,421.52L444.88,421.55L445.93,421.58L446.98,421.61L448.03,421.64L449.08,421.66L450.13,421.69L451.17,421.72L452.22,421.75L453.27,421.78L454.32,421.81L455.37,421.84L456.42,421.87L457.47,421.89L458.52,421.92L459.56,421.95L460.61,421.98L461.66,422.01L462.71,422.04L463.76,422.06L464.81,422.09L465.86,422.12L466.91,422.15L467.95,422.17L469,422.2L470.05,422.23L471.1,422.26L472.15,422.28L473.2,422.31L474.25,422.34L475.3,422.36L476.34,422.39L477.39,422.42L478.44,422.44L479.49,422.47L480.54,422.5L481.59,422.52L482.64,422.55L483.69,422.57L484.73,422.6L485.78,422.63L486.83,422.65L487.88,422.68L488.93,422.7L489.98,422.73L491.03,422.75L492.08,422.78L493.12,422.8L494.17,422.83L495.22,422.85L496.27,422.88L497.32,422.9L498.37,422.93L499.42,422.95L500.47,422.98L501.51,423L502.56,423.03L503.61,423.05L504.66,423.07L505.71,423.1L506.76,423.12L507.81,423.15L508.86,423.17L509.9,423.19L510.95,423.22L512,423.24L513.05,423.26L514.1,423.29L515.15,423.31L516.2,423.33L517.25,423.35L518.3,423.38L519.34,423.4L520.39,423.42L521.44,423.45L522.49,423.47L523.54,423.49L524.59,423.51L525.64,423.53L526.69,423.56L527.73,423.58L528.78,423.6L529.83,423.62L530.88,423.64L531.93,423.66L532.98,423.69L534.03,423.71L535.08,423.73L536.12,423.75L537.17,423.77L538.22,423.79L539.27,423.81L540.32,423.83L541.37,423.85L542.42,423.87L543.47,423.89L544.52,423.91L545.56,423.93L546.61,423.96L547.66,423.98L548.71,423.99L549.76,424.01L550.81,424.03L551.86,424.05L552.91,424.07L553.96,424.09L555,424.11L556.05,424.13L557.1,424.15L558.15,424.17L559.2,424.19L560.25,424.21L561.3,424.23L562.35,424.24L563.39,424.26L564.44,424.28L565.49,424.3L566.54,424.32L567.59,424.34L568.64,424.35L569.69,424.37L570.74,424.39L571.79,424.41L572.83,424.42L573.88,424.44L574.93,424.46L575.98,424.48L577.03,424.49L578.08,424.51L579.13,424.53L580.18,424.54L581.23,424.56L582.27,424.58L583.32,424.59L584.37,424.61L585.42,424.63L586.47,424.64L587.52,424.66L588.57,424.68L589.62,424.69L590.67,424.71L591.71,424.72L592.76,424.74L593.81,424.75L594.86,424.77L595.91,424.78L596.96,424.8L598.01,424.81L599.06,424.83L600.11,424.84L601.16,424.86L602.2,424.87L603.25,424.89L604.3,424.9L605.35,424.92L606.4,424.93L607.45,424.95L608.5,424.96L609.55,424.97L610.6,424.99L611.65,425L612.69,425.01L613.74,425.03L614.79,425.04L615.84,425.05L616.89,425.07L617.94,425.08L618.99,425.09L620.04,425.11L621.09,425.12L622.13,425.13L623.18,425.14L624.23,425.16L625.28,425.17L626.33,425.18L627.38,425.19L628.43,425.21L629.48,425.22L630.53,425.23L631.58,425.24L632.63,425.25L633.67,425.26L634.72,425.28L635.77,425.29L636.82,425.3L637.87,425.31L638.92,425.32L639.97,425.33L641.02,425.34L642.07,425.35L643.12,425.36L644.16,425.37L645.21,425.38L646.26,425.39L647.31,425.4L648.36,425.41L649.41,425.42L650.46,425.43L651.51,425.44L652.56,425.45L653.61,425.46L654.66,425.47L655.7,425.48L656.75,425.49L657.8,425.5L658.85,425.51L659.9,425.52L660.95,425.53L662,425.53L663.05,425.54L664.1,425.55L665.15,425.56L666.2,425.57L667.24,425.58L668.29,425.58L669.34,425.59L670.39,425.6L671.44,425.61L672.49,425.61L673.54,425.62L674.59,425.63L675.64,425.64L676.69,425.64L677.74,425.65L678.79,425.66L679.83,425.66L680.88,425.67L681.93,425.68L682.98,425.68L684.03,425.69L685.08,425.69L686.13,425.7L687.18,425.71L688.23,425.71L689.28,425.72L690.33,425.72L691.38,425.73L692.43,425.73L693.47,425.74L694.52,425.75L695.57,425.75L696.62,425.76L697.67,425.76L698.72,425.76L699.77,425.77L700.82,425.77L701.87,425.78L702.92,425.78L703.97,425.79L705.02,425.79L706.07,425.79L707.11,425.8L708.16,425.8L709.21,425.81L710.26,425.81L711.31,425.81L712.36,425.82L713.41,425.82L714.46,425.82L715.51,425.83L716.56,425.83L717.61,425.83L718.66,425.83L719.71,425.84L720.76,425.84L721.81,425.84L722.85,425.84L723.9,425.84L724.95,425.85L726,425.85" fill="none" stroke="#000" stroke-width="1.9"/>
</g>
<line x1="204.3" y1="324.7" x2="148" y2="370.5" stroke="#000" stroke-width="1.7"/>
<polygon points="140.3,376.7 148.2,366.6 152.6,371.9" fill="#000"/>
<text x="211.8" y="332.4" font-size="28.4"><tspan font-style="italic">d</tspan><tspan font-size="22" dy="8.3">c</tspan><tspan dy="-8.3"> = 20 nm</tspan></text>
<circle cx="458.6" cy="28.7" r="3.7" fill="#fff" stroke="#000" stroke-width="1.4"/>
<text x="494.5" y="37.5" font-size="28.4">experiment</text>
<line x1="428.6" y1="63.4" x2="487.6" y2="63.4" stroke="#000" stroke-width="2"/>
<text x="495" y="73" font-size="28.4"><tspan font-style="italic">k</tspan><tspan font-size="22" dy="7.7">et</tspan><tspan dy="-7.7"> = 1.1 cm/s</tspan></text>
<line x1="428.8" y1="106.8" x2="488" y2="106.8" stroke="#000" stroke-width="2" stroke-dasharray="8.7 8.6"/>
<text x="495.2" y="115" font-size="28.4">positive feedback</text>
<rect x="106.1" y="608.7" width="618.1" height="502.4" fill="none" stroke="#000" stroke-width="2.1"/>
<line x1="96.1" y1="1111.1" x2="106.1" y2="1111.1" stroke="#000" stroke-width="2"/>
<text x="89.9" y="1120.1" font-size="29.5" text-anchor="end">0</text>
<line x1="101.1" y1="1039.33" x2="106.1" y2="1039.33" stroke="#000" stroke-width="2"/>
<line x1="96.1" y1="967.56" x2="106.1" y2="967.56" stroke="#000" stroke-width="2"/>
<text x="89.9" y="976.56" font-size="29.5" text-anchor="end">2</text>
<line x1="101.1" y1="895.79" x2="106.1" y2="895.79" stroke="#000" stroke-width="2"/>
<line x1="96.1" y1="824.01" x2="106.1" y2="824.01" stroke="#000" stroke-width="2"/>
<text x="89.9" y="833.01" font-size="29.5" text-anchor="end">4</text>
<line x1="101.1" y1="752.24" x2="106.1" y2="752.24" stroke="#000" stroke-width="2"/>
<line x1="96.1" y1="680.47" x2="106.1" y2="680.47" stroke="#000" stroke-width="2"/>
<text x="89.9" y="689.47" font-size="29.5" text-anchor="end">6</text>
<line x1="101.1" y1="608.7" x2="106.1" y2="608.7" stroke="#000" stroke-width="2"/>
<line x1="106.1" y1="1111.1" x2="106.1" y2="1121.1" stroke="#000" stroke-width="2"/>
<text x="106.3" y="1150.5" font-size="29.5" text-anchor="middle">0</text>
<line x1="205.79" y1="1111.1" x2="205.79" y2="1116.1" stroke="#000" stroke-width="2"/>
<line x1="305.49" y1="1111.1" x2="305.49" y2="1121.1" stroke="#000" stroke-width="2"/>
<text x="305.69" y="1150.5" font-size="29.5" text-anchor="middle">1</text>
<line x1="405.18" y1="1111.1" x2="405.18" y2="1116.1" stroke="#000" stroke-width="2"/>
<line x1="504.87" y1="1111.1" x2="504.87" y2="1121.1" stroke="#000" stroke-width="2"/>
<text x="505.07" y="1150.5" font-size="29.5" text-anchor="middle">2</text>
<line x1="604.57" y1="1111.1" x2="604.57" y2="1116.1" stroke="#000" stroke-width="2"/>
<line x1="704.26" y1="1111.1" x2="704.26" y2="1121.1" stroke="#000" stroke-width="2"/>
<text x="704.46" y="1150.5" font-size="29.5" text-anchor="middle">3</text>
<text transform="translate(44.6,860.8) rotate(-90)" font-size="33.45" text-anchor="middle">Normalized Tip Current</text>
<text x="415.6" y="1183.3" font-size="34" font-style="italic" text-anchor="middle">d/a</text>
<text x="5.1" y="636.6" font-size="30.8">(B)</text>
<g clip-path="url(#clipB)">
<path d="M128.94,607.95L128.97,609.47L129,610.99L129.03,612.51L129.07,614.03L129.11,615.55L129.14,617.07L129.19,618.58L129.23,620.1L129.27,621.62L129.32,623.13L129.37,624.65L129.42,626.17L129.47,627.68L129.52,629.19L129.58,630.71L129.64,632.22L129.7,633.74L129.76,635.25L129.82,636.76L129.88,638.27L129.95,639.79L130.02,641.3L130.09,642.81L130.16,644.32L130.23,645.83L130.3,647.34L130.38,648.85L130.46,650.36L130.53,651.87L130.61,653.38L130.7,654.89L130.78,656.4L130.86,657.91L130.95,659.41L131.03,660.92L131.12,662.43L131.21,663.94L131.3,665.44L131.39,666.95L131.49,668.46L131.58,669.96L131.68,671.47L131.78,672.98L131.87,674.48L131.97,675.99L132.07,677.49L132.17,679L132.28,680.51L132.38,682.01L132.49,683.52L132.59,685.02L132.7,686.53L132.81,688.03L132.91,689.54L133.02,691.04L133.13,692.55L133.25,694.05L133.36,695.55L133.47,697.06L133.59,698.56L133.7,700.07L133.82,701.57L133.93,703.08L134.05,704.58L134.17,706.08L134.29,707.59L134.41,709.09L134.53,710.6L134.65,712.1L134.77,713.61L134.89,715.11L135.01,716.61L135.14,718.12L135.26,719.62L135.39,721.13L135.51,722.63L135.64,724.14L135.76,725.64L135.89,727.15L136.01,728.65L136.14,730.16L136.27,731.66L136.4,733.17L136.53,734.67L136.65,736.18L136.78,737.68L136.91,739.19L137.04,740.7L137.17,742.2L137.3,743.71L137.43,745.22L137.56,746.72L137.69,748.23L137.82,749.74L137.95,751.24L138.08,752.75L138.22,754.26L138.35,755.77L138.48,757.27L138.61,758.78L138.75,760.29L138.88,761.8L139.02,763.31L139.15,764.82L139.29,766.32L139.43,767.83L139.57,769.34L139.71,770.85L139.85,772.36L139.99,773.86L140.14,775.37L140.28,776.88L140.43,778.39L140.58,779.9L140.73,781.4L140.88,782.91L141.04,784.42L141.19,785.92L141.35,787.43L141.51,788.94L141.67,790.44L141.84,791.95L142.01,793.45L142.17,794.96L142.35,796.46L142.52,797.97L142.7,799.47L142.88,800.97L143.06,802.48L143.24,803.98L143.43,805.48L143.62,806.98L143.82,808.48L144.01,809.98L144.22,811.48L144.42,812.98L144.63,814.48L144.84,815.98L145.05,817.47L145.27,818.97L145.49,820.47L145.71,821.96L145.94,823.46L146.17,824.95L146.41,826.44L146.65,827.94L146.9,829.43L147.14,830.92L147.4,832.41L147.65,833.9L147.92,835.39L148.18,836.87L148.45,838.36L148.73,839.85L149.01,841.33L149.29,842.81L149.58,844.3L149.88,845.78L150.18,847.26L150.48,848.74L150.79,850.22L151.1,851.69L151.42,853.17L151.75,854.65L152.08,856.12L152.42,857.59L152.76,859.07L153.11,860.54L153.46,862.01L153.82,863.48L154.18,864.94L154.56,866.41L154.93,867.87L155.32,869.34L155.71,870.8L156.1,872.26L156.5,873.72L156.91,875.18L157.33,876.63L157.75,878.09L158.18,879.54L158.61,880.99L159.05,882.45L159.5,883.9L159.96,885.34L160.42,886.79L160.89,888.23L161.36,889.68L161.85,891.12L162.34,892.56L162.84,894L163.34,895.43L163.86,896.86L164.38,898.29L164.91,899.72L165.45,901.14L165.99,902.56L166.55,903.98L167.11,905.39L167.68,906.8L168.26,908.2L168.85,909.6L169.44,911L170.05,912.39L170.66,913.78L171.29,915.16L171.92,916.54L172.56,917.91L173.21,919.28L173.87,920.64L174.54,922L175.22,923.35L175.91,924.69L176.61,926.03L177.32,927.36L178.04,928.68L178.76,930L179.5,931.31L180.25,932.62L181.01,933.91L181.78,935.2L182.57,936.49L183.36,937.76L184.16,939.03L184.97,940.29L185.8,941.54L186.63,942.78L187.48,944.01L188.34,945.23L189.21,946.45L190.09,947.65L190.98,948.85L191.89,950.04L192.81,951.22L193.74,952.38L194.68,953.54L195.63,954.69L196.59,955.83L197.57,956.95L198.56,958.07L199.56,959.18L200.58,960.27L201.61,961.35L202.65,962.42L203.7,963.48L204.77,964.53L205.85,965.57L206.94,966.6L208.04,967.61L209.16,968.61L210.29,969.6L211.42,970.58L212.57,971.55L213.74,972.51L214.91,973.45L216.09,974.39L217.28,975.31L218.49,976.22L219.7,977.12L220.92,978L222.15,978.88L223.4,979.74L224.65,980.59L225.91,981.43L227.18,982.26L228.45,983.08L229.74,983.88L231.03,984.68L232.34,985.46L233.65,986.23L234.96,986.99L236.29,987.74L237.62,988.47L238.96,989.19L240.3,989.91L241.66,990.61L243.01,991.29L244.38,991.97L245.75,992.64L247.12,993.29L248.5,993.93L249.89,994.56L251.28,995.18L252.68,995.78L254.08,996.38L255.48,996.96L256.89,997.53L258.31,998.09L259.72,998.64L261.14,999.17L262.57,999.69L264,1000.21L265.43,1000.71L266.86,1001.2L268.3,1001.67L269.74,1002.14L271.18,1002.6L272.63,1003.04L274.07,1003.48L275.52,1003.91L276.98,1004.32L278.43,1004.73L279.89,1005.13L281.36,1005.52L282.82,1005.9L284.28,1006.27L285.75,1006.63L287.22,1006.99L288.7,1007.33L290.17,1007.67L291.65,1008L293.12,1008.33L294.6,1008.64L296.09,1008.95L297.57,1009.26L299.05,1009.55L300.54,1009.84L302.03,1010.13L303.52,1010.4L305.01,1010.68L306.5,1010.94L307.99,1011.21L309.49,1011.46L310.98,1011.71L312.48,1011.96L313.98,1012.2L315.47,1012.44L316.97,1012.67L318.47,1012.9L319.97,1013.13L321.47,1013.35L322.97,1013.57L324.47,1013.79L325.97,1014.01L327.47,1014.22L328.97,1014.43L330.48,1014.63L331.98,1014.84L333.48,1015.04L334.98,1015.24L336.48,1015.44L337.99,1015.64L339.49,1015.83L340.99,1016.02L342.49,1016.21L344,1016.4L345.5,1016.58L347,1016.77L348.5,1016.95L350.01,1017.13L351.51,1017.3L353.01,1017.48L354.52,1017.65L356.02,1017.82L357.52,1017.99L359.03,1018.16L360.53,1018.32L362.03,1018.49L363.54,1018.65L365.04,1018.81L366.55,1018.96L368.05,1019.12L369.56,1019.27L371.06,1019.42L372.56,1019.57L374.07,1019.72L375.57,1019.86L377.08,1020.01L378.58,1020.15L380.09,1020.29L381.59,1020.43L383.1,1020.56L384.6,1020.7L386.11,1020.83L387.61,1020.96L389.12,1021.09L390.63,1021.22L392.13,1021.35L393.64,1021.47L395.14,1021.59L396.65,1021.71L398.16,1021.83L399.66,1021.95L401.17,1022.07L402.68,1022.18L404.18,1022.29L405.69,1022.41L407.19,1022.52L408.7,1022.62L410.21,1022.73L411.72,1022.84L413.22,1022.94L414.73,1023.04L416.24,1023.14L417.74,1023.24L419.25,1023.34L420.76,1023.43L422.27,1023.53L423.77,1023.62L425.28,1023.71L426.79,1023.8L428.3,1023.89L429.8,1023.98L431.31,1024.07L432.82,1024.15L434.33,1024.24L435.84,1024.32L437.34,1024.4L438.85,1024.48L440.36,1024.56L441.87,1024.64L443.38,1024.71L444.89,1024.79L446.4,1024.86L447.9,1024.93L449.41,1025L450.92,1025.07L452.43,1025.14L453.94,1025.21L455.45,1025.28L456.96,1025.34L458.47,1025.41L459.98,1025.47L461.49,1025.53L463,1025.59L464.5,1025.65L466.01,1025.71L467.52,1025.77L469.03,1025.83L470.54,1025.88L472.05,1025.94L473.56,1025.99L475.07,1026.04L476.58,1026.1L478.09,1026.15L479.6,1026.2L481.11,1026.25L482.62,1026.29L484.13,1026.34L485.64,1026.39L487.15,1026.43L488.66,1026.48L490.17,1026.52L491.68,1026.57L493.19,1026.61L494.71,1026.65L496.22,1026.69L497.73,1026.73L499.24,1026.77L500.75,1026.81L502.26,1026.85L503.77,1026.88L505.28,1026.92L506.79,1026.96L508.3,1026.99L509.81,1027.03L511.32,1027.06L512.83,1027.09L514.35,1027.13L515.86,1027.16L517.37,1027.19L518.88,1027.22L520.39,1027.25L521.9,1027.28L523.41,1027.31L524.92,1027.34L526.44,1027.37L527.95,1027.39L529.46,1027.42L530.97,1027.45L532.48,1027.47L533.99,1027.5L535.51,1027.53L537.02,1027.55L538.53,1027.58L540.04,1027.6L541.55,1027.62L543.06,1027.65L544.58,1027.67L546.09,1027.69L547.6,1027.72L549.11,1027.74L550.62,1027.76L552.13,1027.78L553.65,1027.8L555.16,1027.83L556.67,1027.85L558.18,1027.87L559.69,1027.89L561.21,1027.91L562.72,1027.93L564.23,1027.95L565.74,1027.97L567.25,1027.99L568.77,1028.01L570.28,1028.03L571.79,1028.05L573.3,1028.07L574.82,1028.09L576.33,1028.1L577.84,1028.12L579.35,1028.14L580.86,1028.16L582.38,1028.18L583.89,1028.2L585.4,1028.22L586.91,1028.24L588.43,1028.26L589.94,1028.28L591.45,1028.3L592.96,1028.32L594.47,1028.34L595.99,1028.36L597.5,1028.38L599.01,1028.4L600.52,1028.42L602.04,1028.44L603.55,1028.46L605.06,1028.48L606.57,1028.5L608.09,1028.52L609.6,1028.54L611.11,1028.56L612.62,1028.58L614.14,1028.61L615.65,1028.63L617.16,1028.65L618.67,1028.68L620.18,1028.7L621.7,1028.72L623.21,1028.75L624.72,1028.77L626.23,1028.8L627.75,1028.82L629.26,1028.85L630.77,1028.87L632.28,1028.9L633.8,1028.93L635.31,1028.96L636.82,1028.98L638.33,1029.01L639.84,1029.04L641.36,1029.07L642.87,1029.1L644.38,1029.13L645.89,1029.16L647.41,1029.19L648.92,1029.23L650.43,1029.26L651.94,1029.29L653.45,1029.33L654.97,1029.36L656.48,1029.4L657.99,1029.44L659.5,1029.47L661.01,1029.51L662.53,1029.55L664.04,1029.59L665.55,1029.63L667.06,1029.67L668.57,1029.71L670.09,1029.75L671.6,1029.79L673.11,1029.84L674.62,1029.88L676.13,1029.93L677.65,1029.98L679.16,1030.02L680.67,1030.07L682.18,1030.12L683.69,1030.17L685.2,1030.22L686.72,1030.27L688.23,1030.32L689.74,1030.38L691.25,1030.43L692.76,1030.49L694.27,1030.54L695.78,1030.6L697.3,1030.66L698.81,1030.72L700.32,1030.78L701.83,1030.84L703.34,1030.91L704.85,1030.97L706.36,1031.04L707.87,1031.1L709.38,1031.17L710.9,1031.24L712.41,1031.31L713.92,1031.38L715.43,1031.45L716.94,1031.52L718.45,1031.6L719.96,1031.67L721.47,1031.75L722.98,1031.83L724.49,1031.91L726,1031.99" fill="none" stroke="#000" stroke-width="2" stroke-dasharray="8.7 8.6" stroke-dashoffset="2.2"/>
<circle cx="726.58" cy="1033.14" r="3.7" fill="#fff" stroke="#000" stroke-width="1.4"/>
<circle cx="724.47" cy="1033.07" r="3.7" fill="#fff" stroke="#000" stroke-width="1.4"/>
<circle cx="721.76" cy="1033.42" r="3.7" fill="#fff" stroke="#000" stroke-width="1.4"/>
<circle cx="719.67" cy="1032.86" r="3.7" fill="#fff" stroke="#000" stroke-width="1.4"/>
<circle cx="717.41" cy="1033.28" r="3.7" fill="#fff" stroke="#000" stroke-width="1.4"/>
<circle cx="714.75" cy="1033.51" r="3.7" fill="#fff" stroke="#000" stroke-width="1.4"/>
<circle cx="712.6" cy="1033.54" r="3.7" fill="#fff" stroke="#000" stroke-width="1.4"/>
<circle cx="710.19" cy="1033.51" r="3.7" fill="#fff" stroke="#000" stroke-width="1.4"/>
<circle cx="708.18" cy="1033.7" r="3.7" fill="#fff" stroke="#000" stroke-width="1.4"/>
<circle cx="705.52" cy="1033.17" r="3.7" fill="#fff" stroke="#000" stroke-width="1.4"/>
<circle cx="703.22" cy="1032.45" r="3.7" fill="#fff" stroke="#000" stroke-width="1.4"/>
<circle cx="700.96" cy="1033.62" r="3.7" fill="#fff" stroke="#000" stroke-width="1.4"/>
<circle cx="699.14" cy="1033.09" r="3.7" fill="#fff" stroke="#000" stroke-width="1.4"/>
<circle cx="696.45" cy="1033.42" r="3.7" fill="#fff" stroke="#000" stroke-width="1.4"/>
<circle cx="694.43" cy="1033.03" r="3.7" fill="#fff" stroke="#000" stroke-width="1.4"/>
<circle cx="691.96" cy="1033.46" r="3.7" fill="#fff" stroke="#000" stroke-width="1.4"/>
<circle cx="689.42" cy="1033.53" r="3.7" fill="#fff" stroke="#000" stroke-width="1.4"/>
<circle cx="687.3" cy="1033.63" r="3.7" fill="#fff" stroke="#000" stroke-width="1.4"/>
<circle cx="684.85" cy="1032.57" r="3.7" fill="#fff" stroke="#000" stroke-width="1.4"/>
<circle cx="682.52" cy="1033.27" r="3.7" fill="#fff" stroke="#000" stroke-width="1.4"/>
<circle cx="680.4" cy="1032.97" r="3.7" fill="#fff" stroke="#000" stroke-width="1.4"/>
<circle cx="678.32" cy="1033.3" r="3.7" fill="#fff" stroke="#000" stroke-width="1.4"/>
<circle cx="675.91" cy="1032.26" r="3.7" fill="#fff" stroke="#000" stroke-width="1.4"/>
<circle cx="673.87" cy="1033.01" r="3.7" fill="#fff" stroke="#000" stroke-width="1.4"/>
<circle cx="671.36" cy="1032.35" r="3.7" fill="#fff" stroke="#000" stroke-width="1.4"/>
<circle cx="669.29" cy="1032.72" r="3.7" fill="#fff" stroke="#000" stroke-width="1.4"/>
<circle cx="666.55" cy="1032.5" r="3.7" fill="#fff" stroke="#000" stroke-width="1.4"/>
<circle cx="664.68" cy="1032.68" r="3.7" fill="#fff" stroke="#000" stroke-width="1.4"/>
<circle cx="662.22" cy="1033.16" r="3.7" fill="#fff" stroke="#000" stroke-width="1.4"/>
<circle cx="659.85" cy="1032.64" r="3.7" fill="#fff" stroke="#000" stroke-width="1.4"/>
<circle cx="657.41" cy="1033.83" r="3.7" fill="#fff" stroke="#000" stroke-width="1.4"/>
<circle cx="655.25" cy="1032.76" r="3.7" fill="#fff" stroke="#000" stroke-width="1.4"/>
<circle cx="652.62" cy="1032.97" r="3.7" fill="#fff" stroke="#000" stroke-width="1.4"/>
<circle cx="650.48" cy="1032.77" r="3.7" fill="#fff" stroke="#000" stroke-width="1.4"/>
<circle cx="648.42" cy="1032.67" r="3.7" fill="#fff" stroke="#000" stroke-width="1.4"/>
<circle cx="645.81" cy="1031.99" r="3.7" fill="#fff" stroke="#000" stroke-width="1.4"/>
<circle cx="643.59" cy="1032.7" r="3.7" fill="#fff" stroke="#000" stroke-width="1.4"/>
<circle cx="641.56" cy="1032.09" r="3.7" fill="#fff" stroke="#000" stroke-width="1.4"/>
<circle cx="638.97" cy="1032.5" r="3.7" fill="#fff" stroke="#000" stroke-width="1.4"/>
<circle cx="636.64" cy="1031.99" r="3.7" fill="#fff" stroke="#000" stroke-width="1.4"/>
<circle cx="634.6" cy="1032.7" r="3.7" fill="#fff" stroke="#000" stroke-width="1.4"/>
<circle cx="632.35" cy="1033.01" r="3.7" fill="#fff" stroke="#000" stroke-width="1.4"/>
<circle cx="629.68" cy="1032.74" r="3.7" fill="#fff" stroke="#000" stroke-width="1.4"/>
<circle cx="627.53" cy="1032.6" r="3.7" fill="#fff" stroke="#000" stroke-width="1.4"/>
<circle cx="625.28" cy="1032.7" r="3.7" fill="#fff" stroke="#000" stroke-width="1.4"/>
<circle cx="622.92" cy="1032.37" r="3.7" fill="#fff" stroke="#000" stroke-width="1.4"/>
<circle cx="620.96" cy="1032.11" r="3.7" fill="#fff" stroke="#000" stroke-width="1.4"/>
<circle cx="618.67" cy="1031.84" r="3.7" fill="#fff" stroke="#000" stroke-width="1.4"/>
<circle cx="616.07" cy="1031.99" r="3.7" fill="#fff" stroke="#000" stroke-width="1.4"/>
<circle cx="614.1" cy="1032.18" r="3.7" fill="#fff" stroke="#000" stroke-width="1.4"/>
<circle cx="611.67" cy="1032.35" r="3.7" fill="#fff" stroke="#000" stroke-width="1.4"/>
<circle cx="609.39" cy="1031.93" r="3.7" fill="#fff" stroke="#000" stroke-width="1.4"/>
<circle cx="607.2" cy="1032.01" r="3.7" fill="#fff" stroke="#000" stroke-width="1.4"/>
<circle cx="604.74" cy="1031.75" r="3.7" fill="#fff" stroke="#000" stroke-width="1.4"/>
<circle cx="602.28" cy="1031.81" r="3.7" fill="#fff" stroke="#000" stroke-width="1.4"/>
<circle cx="599.74" cy="1032.34" r="3.7" fill="#fff" stroke="#000" stroke-width="1.4"/>
<circle cx="597.95" cy="1032.56" r="3.7" fill="#fff" stroke="#000" stroke-width="1.4"/>
<circle cx="595.66" cy="1032.23" r="3.7" fill="#fff" stroke="#000" stroke-width="1.4"/>
<circle cx="592.86" cy="1031.65" r="3.7" fill="#fff" stroke="#000" stroke-width="1.4"/>
<circle cx="591.04" cy="1032.48" r="3.7" fill="#fff" stroke="#000" stroke-width="1.4"/>
<circle cx="588.62" cy="1031.87" r="3.7" fill="#fff" stroke="#000" stroke-width="1.4"/>
<circle cx="585.98" cy="1032.41" r="3.7" fill="#fff" stroke="#000" stroke-width="1.4"/>
<circle cx="584.03" cy="1031.86" r="3.7" fill="#fff" stroke="#000" stroke-width="1.4"/>
<circle cx="581.86" cy="1031.63" r="3.7" fill="#fff" stroke="#000" stroke-width="1.4"/>
<circle cx="579.26" cy="1031.94" r="3.7" fill="#fff" stroke="#000" stroke-width="1.4"/>
<circle cx="576.85" cy="1031.52" r="3.7" fill="#fff" stroke="#000" stroke-width="1.4"/>
<circle cx="574.59" cy="1032.48" r="3.7" fill="#fff" stroke="#000" stroke-width="1.4"/>
<circle cx="572.63" cy="1031.09" r="3.7" fill="#fff" stroke="#000" stroke-width="1.4"/>
<circle cx="570.25" cy="1031.3" r="3.7" fill="#fff" stroke="#000" stroke-width="1.4"/>
<circle cx="567.65" cy="1031.3" r="3.7" fill="#fff" stroke="#000" stroke-width="1.4"/>
<circle cx="565.4" cy="1031.35" r="3.7" fill="#fff" stroke="#000" stroke-width="1.4"/>
<circle cx="563.07" cy="1031.05" r="3.7" fill="#fff" stroke="#000" stroke-width="1.4"/>
<circle cx="560.81" cy="1031.8" r="3.7" fill="#fff" stroke="#000" stroke-width="1.4"/>
<circle cx="558.38" cy="1031.95" r="3.7" fill="#fff" stroke="#000" stroke-width="1.4"/>
<circle cx="556.03" cy="1030.49" r="3.7" fill="#fff" stroke="#000" stroke-width="1.4"/>
<circle cx="553.78" cy="1030.89" r="3.7" fill="#fff" stroke="#000" stroke-width="1.4"/>
<circle cx="551.7" cy="1030.93" r="3.7" fill="#fff" stroke="#000" stroke-width="1.4"/>
<circle cx="549.37" cy="1031.12" r="3.7" fill="#fff" stroke="#000" stroke-width="1.4"/>
<circle cx="547.32" cy="1031.09" r="3.7" fill="#fff" stroke="#000" stroke-width="1.4"/>
<circle cx="544.97" cy="1030.93" r="3.7" fill="#fff" stroke="#000" stroke-width="1.4"/>
<circle cx="542.68" cy="1030.35" r="3.7" fill="#fff" stroke="#000" stroke-width="1.4"/>
<circle cx="540.35" cy="1030.06" r="3.7" fill="#fff" stroke="#000" stroke-width="1.4"/>
<circle cx="537.81" cy="1031.5" r="3.7" fill="#fff" stroke="#000" stroke-width="1.4"/>
<circle cx="535.56" cy="1030.75" r="3.7" fill="#fff" stroke="#000" stroke-width="1.4"/>
<circle cx="533.31" cy="1029.67" r="3.7" fill="#fff" stroke="#000" stroke-width="1.4"/>
<circle cx="530.8" cy="1030.28" r="3.7" fill="#fff" stroke="#000" stroke-width="1.4"/>
<circle cx="528.95" cy="1030.18" r="3.7" fill="#fff" stroke="#000" stroke-width="1.4"/>
<circle cx="526.22" cy="1029.72" r="3.7" fill="#fff" stroke="#000" stroke-width="1.4"/>
<circle cx="523.83" cy="1030.6" r="3.7" fill="#fff" stroke="#000" stroke-width="1.4"/>
<circle cx="522.01" cy="1030.2" r="3.7" fill="#fff" stroke="#000" stroke-width="1.4"/>
<circle cx="519.35" cy="1029.91" r="3.7" fill="#fff" stroke="#000" stroke-width="1.4"/>
<circle cx="517.45" cy="1030.42" r="3.7" fill="#fff" stroke="#000" stroke-width="1.4"/>
<circle cx="514.66" cy="1030.75" r="3.7" fill="#fff" stroke="#000" stroke-width="1.4"/>
<circle cx="512.71" cy="1029.8" r="3.7" fill="#fff" stroke="#000" stroke-width="1.4"/>
<circle cx="510.22" cy="1030.12" r="3.7" fill="#fff" stroke="#000" stroke-width="1.4"/>
<circle cx="507.94" cy="1029.71" r="3.7" fill="#fff" stroke="#000" stroke-width="1.4"/>
<circle cx="505.73" cy="1030.61" r="3.7" fill="#fff" stroke="#000" stroke-width="1.4"/>
<circle cx="503.59" cy="1029.67" r="3.7" fill="#fff" stroke="#000" stroke-width="1.4"/>
<circle cx="500.9" cy="1030.65" r="3.7" fill="#fff" stroke="#000" stroke-width="1.4"/>
<circle cx="498.85" cy="1029.15" r="3.7" fill="#fff" stroke="#000" stroke-width="1.4"/>
<circle cx="496.53" cy="1029.77" r="3.7" fill="#fff" stroke="#000" stroke-width="1.4"/>
<circle cx="494.25" cy="1029.27" r="3.7" fill="#fff" stroke="#000" stroke-width="1.4"/>
<circle cx="491.94" cy="1029.32" r="3.7" fill="#fff" stroke="#000" stroke-width="1.4"/>
<circle cx="489.69" cy="1028.85" r="3.7" fill="#fff" stroke="#000" stroke-width="1.4"/>
<circle cx="487.57" cy="1028.83" r="3.7" fill="#fff" stroke="#000" stroke-width="1.4"/>
<circle cx="484.75" cy="1028.95" r="3.7" fill="#fff" stroke="#000" stroke-width="1.4"/>
<circle cx="482.64" cy="1029.1" r="3.7" fill="#fff" stroke="#000" stroke-width="1.4"/>
<circle cx="480.29" cy="1028.62" r="3.7" fill="#fff" stroke="#000" stroke-width="1.4"/>
<circle cx="478.07" cy="1028.27" r="3.7" fill="#fff" stroke="#000" stroke-width="1.4"/>
<circle cx="475.99" cy="1028.44" r="3.7" fill="#fff" stroke="#000" stroke-width="1.4"/>
<circle cx="473.24" cy="1028.71" r="3.7" fill="#fff" stroke="#000" stroke-width="1.4"/>
<circle cx="471.12" cy="1028.54" r="3.7" fill="#fff" stroke="#000" stroke-width="1.4"/>
<circle cx="468.6" cy="1028.58" r="3.7" fill="#fff" stroke="#000" stroke-width="1.4"/>
<circle cx="466.82" cy="1029.22" r="3.7" fill="#fff" stroke="#000" stroke-width="1.4"/>
<circle cx="464.04" cy="1028.8" r="3.7" fill="#fff" stroke="#000" stroke-width="1.4"/>
<circle cx="461.98" cy="1027.98" r="3.7" fill="#fff" stroke="#000" stroke-width="1.4"/>
<circle cx="459.47" cy="1028.22" r="3.7" fill="#fff" stroke="#000" stroke-width="1.4"/>
<circle cx="457.4" cy="1027.91" r="3.7" fill="#fff" stroke="#000" stroke-width="1.4"/>
<circle cx="454.96" cy="1027.58" r="3.7" fill="#fff" stroke="#000" stroke-width="1.4"/>
<circle cx="452.94" cy="1028.13" r="3.7" fill="#fff" stroke="#000" stroke-width="1.4"/>
<circle cx="450.48" cy="1027.84" r="3.7" fill="#fff" stroke="#000" stroke-width="1.4"/>
<circle cx="448" cy="1027.29" r="3.7" fill="#fff" stroke="#000" stroke-width="1.4"/>
<circle cx="445.73" cy="1027.46" r="3.7" fill="#fff" stroke="#000" stroke-width="1.4"/>
<circle cx="443.48" cy="1027.27" r="3.7" fill="#fff" stroke="#000" stroke-width="1.4"/>
<circle cx="441.27" cy="1027.56" r="3.7" fill="#fff" stroke="#000" stroke-width="1.4"/>
<circle cx="438.98" cy="1026.66" r="3.7" fill="#fff" stroke="#000" stroke-width="1.4"/>
<circle cx="436.84" cy="1027.3" r="3.7" fill="#fff" stroke="#000" stroke-width="1.4"/>
<circle cx="434.53" cy="1026.46" r="3.7" fill="#fff" stroke="#000" stroke-width="1.4"/>
<circle cx="431.82" cy="1027.26" r="3.7" fill="#fff" stroke="#000" stroke-width="1.4"/>
<circle cx="429.92" cy="1026.78" r="3.7" fill="#fff" stroke="#000" stroke-width="1.4"/>
<circle cx="427.43" cy="1027.33" r="3.7" fill="#fff" stroke="#000" stroke-width="1.4"/>
<circle cx="425.28" cy="1027.17" r="3.7" fill="#fff" stroke="#000" stroke-width="1.4"/>
<circle cx="422.78" cy="1026.5" r="3.7" fill="#fff" stroke="#000" stroke-width="1.4"/>
<circle cx="420.57" cy="1027.2" r="3.7" fill="#fff" stroke="#000" stroke-width="1.4"/>
<circle cx="418.19" cy="1026.28" r="3.7" fill="#fff" stroke="#000" stroke-width="1.4"/>
<circle cx="416.16" cy="1026.51" r="3.7" fill="#fff" stroke="#000" stroke-width="1.4"/>
<circle cx="413.45" cy="1026.19" r="3.7" fill="#fff" stroke="#000" stroke-width="1.4"/>
<circle cx="411.43" cy="1026.64" r="3.7" fill="#fff" stroke="#000" stroke-width="1.4"/>
<circle cx="409.11" cy="1026.06" r="3.7" fill="#fff" stroke="#000" stroke-width="1.4"/>
<circle cx="406.99" cy="1024.63" r="3.7" fill="#fff" stroke="#000" stroke-width="1.4"/>
<circle cx="404.62" cy="1025.61" r="3.7" fill="#fff" stroke="#000" stroke-width="1.4"/>
<circle cx="402.46" cy="1025.66" r="3.7" fill="#fff" stroke="#000" stroke-width="1.4"/>
<circle cx="399.73" cy="1025.23" r="3.7" fill="#fff" stroke="#000" stroke-width="1.4"/>
<circle cx="397.78" cy="1024.91" r="3.7" fill="#fff" stroke="#000" stroke-width="1.4"/>
<circle cx="395.15" cy="1024.97" r="3.7" fill="#fff" stroke="#000" stroke-width="1.4"/>
<circle cx="392.7" cy="1025.11" r="3.7" fill="#fff" stroke="#000" stroke-width="1.4"/>
<circle cx="390.91" cy="1025.12" r="3.7" fill="#fff" stroke="#000" stroke-width="1.4"/>
<circle cx="388.64" cy="1024.36" r="3.7" fill="#fff" stroke="#000" stroke-width="1.4"/>
<circle cx="386.36" cy="1024.51" r="3.7" fill="#fff" stroke="#000" stroke-width="1.4"/>
<circle cx="383.68" cy="1024.91" r="3.7" fill="#fff" stroke="#000" stroke-width="1.4"/>
<circle cx="381.28" cy="1024.64" r="3.7" fill="#fff" stroke="#000" stroke-width="1.4"/>
<circle cx="379.1" cy="1023.91" r="3.7" fill="#fff" stroke="#000" stroke-width="1.4"/>
<circle cx="377.11" cy="1024.15" r="3.7" fill="#fff" stroke="#000" stroke-width="1.4"/>
<circle cx="374.72" cy="1024.14" r="3.7" fill="#fff" stroke="#000" stroke-width="1.4"/>
<circle cx="372.01" cy="1023.31" r="3.7" fill="#fff" stroke="#000" stroke-width="1.4"/>
<circle cx="369.9" cy="1023.64" r="3.7" fill="#fff" stroke="#000" stroke-width="1.4"/>
<circle cx="367.97" cy="1024.27" r="3.7" fill="#fff" stroke="#000" stroke-width="1.4"/>
<circle cx="365.51" cy="1023.27" r="3.7" fill="#fff" stroke="#000" stroke-width="1.4"/>
<circle cx="363.17" cy="1023.02" r="3.7" fill="#fff" stroke="#000" stroke-width="1.4"/>
<circle cx="361.05" cy="1022.55" r="3.7" fill="#fff" stroke="#000" stroke-width="1.4"/>
<circle cx="358.22" cy="1021.96" r="3.7" fill="#fff" stroke="#000" stroke-width="1.4"/>
<circle cx="355.97" cy="1023.21" r="3.7" fill="#fff" stroke="#000" stroke-width="1.4"/>
<circle cx="354.17" cy="1022.81" r="3.7" fill="#fff" stroke="#000" stroke-width="1.4"/>
<circle cx="351.76" cy="1023.03" r="3.7" fill="#fff" stroke="#000" stroke-width="1.4"/>
<circle cx="349.4" cy="1021.8" r="3.7" fill="#fff" stroke="#000" stroke-width="1.4"/>
<circle cx="347.1" cy="1022.43" r="3.7" fill="#fff" stroke="#000" stroke-width="1.4"/>
<circle cx="344.95" cy="1022.01" r="3.7" fill="#fff" stroke="#000" stroke-width="1.4"/>
<circle cx="342.59" cy="1022.1" r="3.7" fill="#fff" stroke="#000" stroke-width="1.4"/>
<circle cx="340.04" cy="1021.87" r="3.7" fill="#fff" stroke="#000" stroke-width="1.4"/>
<circle cx="337.61" cy="1020.93" r="3.7" fill="#fff" stroke="#000" stroke-width="1.4"/>
<circle cx="335.36" cy="1021.26" r="3.7" fill="#fff" stroke="#000" stroke-width="1.4"/>
<circle cx="332.91" cy="1021.31" r="3.7" fill="#fff" stroke="#000" stroke-width="1.4"/>
<circle cx="330.7" cy="1020.6" r="3.7" fill="#fff" stroke="#000" stroke-width="1.4"/>
<circle cx="328.32" cy="1020.67" r="3.7" fill="#fff" stroke="#000" stroke-width="1.4"/>
<circle cx="326.17" cy="1020.33" r="3.7" fill="#fff" stroke="#000" stroke-width="1.4"/>
<circle cx="323.78" cy="1020.35" r="3.7" fill="#fff" stroke="#000" stroke-width="1.4"/>
<circle cx="321.78" cy="1020.41" r="3.7" fill="#fff" stroke="#000" stroke-width="1.4"/>
<circle cx="319.19" cy="1019.3" r="3.7" fill="#fff" stroke="#000" stroke-width="1.4"/>
<circle cx="317.06" cy="1019.69" r="3.7" fill="#fff" stroke="#000" stroke-width="1.4"/>
<circle cx="314.71" cy="1019.75" r="3.7" fill="#fff" stroke="#000" stroke-width="1.4"/>
<circle cx="312.66" cy="1019.53" r="3.7" fill="#fff" stroke="#000" stroke-width="1.4"/>
<circle cx="310.29" cy="1019.08" r="3.7" fill="#fff" stroke="#000" stroke-width="1.4"/>
<circle cx="307.89" cy="1018.68" r="3.7" fill="#fff" stroke="#000" stroke-width="1.4"/>
<circle cx="305.49" cy="1018.74" r="3.7" fill="#fff" stroke="#000" stroke-width="1.4"/>
<circle cx="303.12" cy="1018.51" r="3.7" fill="#fff" stroke="#000" stroke-width="1.4"/>
<circle cx="301.16" cy="1017.92" r="3.7" fill="#fff" stroke="#000" stroke-width="1.4"/>
<circle cx="298.44" cy="1017.74" r="3.7" fill="#fff" stroke="#000" stroke-width="1.4"/>
<circle cx="296.28" cy="1017.76" r="3.7" fill="#fff" stroke="#000" stroke-width="1.4"/>
<circle cx="294.38" cy="1017.5" r="3.7" fill="#fff" stroke="#000" stroke-width="1.4"/>
<circle cx="291.88" cy="1017.76" r="3.7" fill="#fff" stroke="#000" stroke-width="1.4"/>
<circle cx="289.49" cy="1016.92" r="3.7" fill="#fff" stroke="#000" stroke-width="1.4"/>
<circle cx="287.28" cy="1016.62" r="3.7" fill="#fff" stroke="#000" stroke-width="1.4"/>
<circle cx="284.99" cy="1016.33" r="3.7" fill="#fff" stroke="#000" stroke-width="1.4"/>
<circle cx="282.71" cy="1015.27" r="3.7" fill="#fff" stroke="#000" stroke-width="1.4"/>
<circle cx="280.27" cy="1015.51" r="3.7" fill="#fff" stroke="#000" stroke-width="1.4"/>
<circle cx="278.14" cy="1015.92" r="3.7" fill="#fff" stroke="#000" stroke-width="1.4"/>
<circle cx="275.86" cy="1014.41" r="3.7" fill="#fff" stroke="#000" stroke-width="1.4"/>
<circle cx="273.29" cy="1014.18" r="3.7" fill="#fff" stroke="#000" stroke-width="1.4"/>
<circle cx="271.13" cy="1013.83" r="3.7" fill="#fff" stroke="#000" stroke-width="1.4"/>
<circle cx="268.77" cy="1012.74" r="3.7" fill="#fff" stroke="#000" stroke-width="1.4"/>
<circle cx="266.48" cy="1013.33" r="3.7" fill="#fff" stroke="#000" stroke-width="1.4"/>
<circle cx="264.4" cy="1012.72" r="3.7" fill="#fff" stroke="#000" stroke-width="1.4"/>
<circle cx="261.72" cy="1012.92" r="3.7" fill="#fff" stroke="#000" stroke-width="1.4"/>
<circle cx="259.34" cy="1011.77" r="3.7" fill="#fff" stroke="#000" stroke-width="1.4"/>
<circle cx="257.3" cy="1011.36" r="3.7" fill="#fff" stroke="#000" stroke-width="1.4"/>
<circle cx="254.86" cy="1011.31" r="3.7" fill="#fff" stroke="#000" stroke-width="1.4"/>
<circle cx="252.93" cy="1010.89" r="3.7" fill="#fff" stroke="#000" stroke-width="1.4"/>
<circle cx="250.45" cy="1010.25" r="3.7" fill="#fff" stroke="#000" stroke-width="1.4"/>
<circle cx="248.07" cy="1009.13" r="3.7" fill="#fff" stroke="#000" stroke-width="1.4"/>
<circle cx="245.76" cy="1008.96" r="3.7" fill="#fff" stroke="#000" stroke-width="1.4"/>
<circle cx="243.38" cy="1008.51" r="3.7" fill="#fff" stroke="#000" stroke-width="1.4"/>
<circle cx="241.15" cy="1008" r="3.7" fill="#fff" stroke="#000" stroke-width="1.4"/>
<circle cx="239.01" cy="1007.92" r="3.7" fill="#fff" stroke="#000" stroke-width="1.4"/>
<circle cx="236.63" cy="1006.88" r="3.7" fill="#fff" stroke="#000" stroke-width="1.4"/>
<circle cx="234.52" cy="1006.03" r="3.7" fill="#fff" stroke="#000" stroke-width="1.4"/>
<circle cx="232.13" cy="1005.99" r="3.7" fill="#fff" stroke="#000" stroke-width="1.4"/>
<circle cx="229.87" cy="1004.97" r="3.7" fill="#fff" stroke="#000" stroke-width="1.4"/>
<circle cx="227.33" cy="1004.02" r="3.7" fill="#fff" stroke="#000" stroke-width="1.4"/>
<circle cx="225" cy="1003.68" r="3.7" fill="#fff" stroke="#000" stroke-width="1.4"/>
<circle cx="222.95" cy="1003.47" r="3.7" fill="#fff" stroke="#000" stroke-width="1.4"/>
<circle cx="220.43" cy="1002.25" r="3.7" fill="#fff" stroke="#000" stroke-width="1.4"/>
<circle cx="218.14" cy="1002.22" r="3.7" fill="#fff" stroke="#000" stroke-width="1.4"/>
<circle cx="215.84" cy="1001.49" r="3.7" fill="#fff" stroke="#000" stroke-width="1.4"/>
<circle cx="213.71" cy="1000.46" r="3.7" fill="#fff" stroke="#000" stroke-width="1.4"/>
<circle cx="211.37" cy="999.45" r="3.7" fill="#fff" stroke="#000" stroke-width="1.4"/>
<circle cx="209.18" cy="998.79" r="3.7" fill="#fff" stroke="#000" stroke-width="1.4"/>
<circle cx="206.82" cy="997.76" r="3.7" fill="#fff" stroke="#000" stroke-width="1.4"/>
<circle cx="204.37" cy="997.23" r="3.7" fill="#fff" stroke="#000" stroke-width="1.4"/>
<circle cx="202.33" cy="996.79" r="3.7" fill="#fff" stroke="#000" stroke-width="1.4"/>
<circle cx="199.63" cy="994.84" r="3.7" fill="#fff" stroke="#000" stroke-width="1.4"/>
<circle cx="197.24" cy="994.23" r="3.7" fill="#fff" stroke="#000" stroke-width="1.4"/>
<circle cx="195.28" cy="993.28" r="3.7" fill="#fff" stroke="#000" stroke-width="1.4"/>
<circle cx="192.62" cy="992.11" r="3.7" fill="#fff" stroke="#000" stroke-width="1.4"/>
<circle cx="190.63" cy="990.94" r="3.7" fill="#fff" stroke="#000" stroke-width="1.4"/>
<circle cx="188.05" cy="990.52" r="3.7" fill="#fff" stroke="#000" stroke-width="1.4"/>
<circle cx="186.01" cy="989.44" r="3.7" fill="#fff" stroke="#000" stroke-width="1.4"/>
<circle cx="183.55" cy="987.25" r="3.7" fill="#fff" stroke="#000" stroke-width="1.4"/>
<circle cx="182.6" cy="986.7" r="3.7" fill="#fff" stroke="#000" stroke-width="1.4"/>
<circle cx="181.28" cy="987.31" r="3.7" fill="#fff" stroke="#000" stroke-width="1.4"/>
<circle cx="178.54" cy="986.31" r="3.7" fill="#fff" stroke="#000" stroke-width="1.4"/>
<circle cx="178.5" cy="983.4" r="3.7" fill="#fff" stroke="#000" stroke-width="1.4"/>
<circle cx="175.96" cy="983.47" r="3.7" fill="#fff" stroke="#000" stroke-width="1.4"/>
<circle cx="175" cy="982" r="3.7" fill="#fff" stroke="#000" stroke-width="1.4"/>
<circle cx="173.03" cy="982.5" r="3.7" fill="#fff" stroke="#000" stroke-width="1.4"/>
<circle cx="171.9" cy="985" r="3.7" fill="#fff" stroke="#000" stroke-width="1.4"/>
<circle cx="170.5" cy="982" r="3.7" fill="#fff" stroke="#000" stroke-width="1.4"/>
<circle cx="168.12" cy="976.98" r="3.7" fill="#fff" stroke="#000" stroke-width="1.4"/>
<circle cx="167.8" cy="980.9" r="3.7" fill="#fff" stroke="#000" stroke-width="1.4"/>
<circle cx="165.36" cy="978.33" r="3.7" fill="#fff" stroke="#000" stroke-width="1.4"/>
<circle cx="162.9" cy="977.6" r="3.7" fill="#fff" stroke="#000" stroke-width="1.4"/>
<circle cx="162.89" cy="973.63" r="3.7" fill="#fff" stroke="#000" stroke-width="1.4"/>
<circle cx="160.8" cy="970.2" r="3.7" fill="#fff" stroke="#000" stroke-width="1.4"/>
<circle cx="160.38" cy="974.32" r="3.7" fill="#fff" stroke="#000" stroke-width="1.4"/>
<circle cx="158" cy="967" r="3.7" fill="#fff" stroke="#000" stroke-width="1.4"/>
<circle cx="157.78" cy="971.05" r="3.7" fill="#fff" stroke="#000" stroke-width="1.4"/>
<circle cx="155.28" cy="967.02" r="3.7" fill="#fff" stroke="#000" stroke-width="1.4"/>
<circle cx="154.6" cy="972.7" r="3.7" fill="#fff" stroke="#000" stroke-width="1.4"/>
<circle cx="152.41" cy="966.29" r="3.7" fill="#fff" stroke="#000" stroke-width="1.4"/>
<circle cx="150.5" cy="965.3" r="3.7" fill="#fff" stroke="#000" stroke-width="1.4"/>
<circle cx="150.06" cy="962.08" r="3.7" fill="#fff" stroke="#000" stroke-width="1.4"/>
<circle cx="147.26" cy="957.07" r="3.7" fill="#fff" stroke="#000" stroke-width="1.4"/>
<circle cx="146" cy="961.2" r="3.7" fill="#fff" stroke="#000" stroke-width="1.4"/>
<circle cx="145.6" cy="952.9" r="3.7" fill="#fff" stroke="#000" stroke-width="1.4"/>
<circle cx="144.4" cy="954.81" r="3.7" fill="#fff" stroke="#000" stroke-width="1.4"/>
<circle cx="141.8" cy="951.46" r="3.7" fill="#fff" stroke="#000" stroke-width="1.4"/>
<circle cx="139.8" cy="953.7" r="3.7" fill="#fff" stroke="#000" stroke-width="1.4"/>
<circle cx="136.5" cy="948.8" r="3.7" fill="#fff" stroke="#000" stroke-width="1.4"/>
<circle cx="134.9" cy="939.8" r="3.7" fill="#fff" stroke="#000" stroke-width="1.4"/>
<circle cx="132.8" cy="946.3" r="3.7" fill="#fff" stroke="#000" stroke-width="1.4"/>
<circle cx="128.7" cy="933.6" r="3.7" fill="#fff" stroke="#000" stroke-width="1.4"/>
<circle cx="127.1" cy="918.3" r="3.7" fill="#fff" stroke="#000" stroke-width="1.4"/>
<circle cx="124.3" cy="916.9" r="3.7" fill="#fff" stroke="#000" stroke-width="1.4"/>
<circle cx="121.3" cy="903.2" r="3.7" fill="#fff" stroke="#000" stroke-width="1.4"/>
<circle cx="118.9" cy="894.3" r="3.7" fill="#fff" stroke="#000" stroke-width="1.4"/>
<circle cx="114.7" cy="899.4" r="3.7" fill="#fff" stroke="#000" stroke-width="1.4"/>
<circle cx="112.2" cy="874.1" r="3.7" fill="#fff" stroke="#000" stroke-width="1.4"/>
<circle cx="108.4" cy="749.8" r="3.7" fill="#fff" stroke="#000" stroke-width="1.4"/>
<path d="M106.71,867.54L107.05,868.58L107.39,869.62L107.73,870.67L108.07,871.72L108.42,872.78L108.76,873.84L109.1,874.9L109.45,875.97L109.8,877.04L110.15,878.11L110.5,879.19L110.85,880.27L111.2,881.35L111.56,882.43L111.92,883.52L112.28,884.61L112.64,885.7L113,886.79L113.37,887.88L113.74,888.97L114.11,890.07L114.49,891.17L114.86,892.27L115.24,893.37L115.63,894.47L116.01,895.57L116.4,896.67L116.79,897.77L117.19,898.88L117.59,899.98L117.99,901.08L118.39,902.18L118.8,903.29L119.21,904.39L119.63,905.49L120.05,906.59L120.48,907.69L120.9,908.79L121.34,909.89L121.77,910.99L122.21,912.08L122.66,913.18L123.11,914.27L123.56,915.36L124.02,916.45L124.48,917.54L124.95,918.62L125.43,919.71L125.9,920.79L126.39,921.86L126.88,922.94L127.37,924.01L127.87,925.08L128.37,926.15L128.88,927.21L129.4,928.27L129.92,929.32L130.45,930.38L130.98,931.42L131.52,932.47L132.07,933.51L132.62,934.55L133.18,935.58L133.74,936.6L134.31,937.63L134.89,938.64L135.47,939.66L136.06,940.66L136.66,941.67L137.27,942.66L137.88,943.66L138.5,944.64L139.12,945.62L139.75,946.6L140.39,947.56L141.04,948.53L141.7,949.48L142.36,950.43L143.03,951.37L143.71,952.31L144.39,953.24L145.09,954.16L145.79,955.08L146.49,955.99L147.21,956.89L147.93,957.79L148.66,958.67L149.4,959.56L150.14,960.43L150.9,961.29L151.65,962.15L152.42,963L153.2,963.85L153.98,964.68L154.76,965.51L155.56,966.33L156.36,967.14L157.17,967.95L157.99,968.74L158.82,969.53L159.65,970.31L160.49,971.08L161.33,971.84L162.18,972.6L163.04,973.34L163.91,974.08L164.78,974.81L165.67,975.53L166.55,976.24L167.45,976.94L168.35,977.63L169.26,978.32L170.18,978.99L171.1,979.65L172.03,980.31L172.96,980.96L173.91,981.59L174.86,982.22L175.81,982.84L176.77,983.45L177.74,984.06L178.71,984.65L179.69,985.23L180.68,985.81L181.67,986.38L182.67,986.94L183.67,987.5L184.68,988.04L185.69,988.58L186.7,989.11L187.73,989.63L188.75,990.14L189.78,990.65L190.82,991.15L191.86,991.64L192.91,992.13L193.96,992.61L195.01,993.08L196.07,993.55L197.13,994L198.19,994.46L199.26,994.9L200.33,995.34L201.41,995.77L202.48,996.2L203.56,996.62L204.65,997.04L205.74,997.45L206.83,997.85L207.92,998.25L209.01,998.64L210.11,999.03L211.21,999.41L212.31,999.78L213.42,1000.16L214.52,1000.52L215.63,1000.88L216.74,1001.24L217.85,1001.59L218.97,1001.94L220.08,1002.28L221.2,1002.62L222.31,1002.96L223.43,1003.29L224.55,1003.61L225.67,1003.93L226.79,1004.25L227.91,1004.57L229.03,1004.88L230.15,1005.18L231.27,1005.49L232.4,1005.79L233.52,1006.08L234.65,1006.37L235.77,1006.66L236.9,1006.94L238.03,1007.23L239.15,1007.5L240.28,1007.78L241.41,1008.05L242.54,1008.31L243.67,1008.58L244.8,1008.84L245.93,1009.09L247.06,1009.35L248.2,1009.59L249.33,1009.84L250.46,1010.08L251.6,1010.32L252.73,1010.56L253.87,1010.79L255.01,1011.02L256.14,1011.25L257.28,1011.48L258.42,1011.7L259.56,1011.91L260.69,1012.13L261.83,1012.34L262.97,1012.55L264.11,1012.76L265.26,1012.96L266.4,1013.16L267.54,1013.36L268.68,1013.55L269.82,1013.75L270.97,1013.93L272.11,1014.12L273.26,1014.31L274.4,1014.49L275.55,1014.67L276.69,1014.84L277.84,1015.02L278.98,1015.19L280.13,1015.36L281.28,1015.52L282.43,1015.69L283.58,1015.85L284.72,1016.01L285.87,1016.16L287.02,1016.32L288.17,1016.47L289.32,1016.62L290.47,1016.77L291.62,1016.91L292.77,1017.06L293.93,1017.2L295.08,1017.34L296.23,1017.48L297.38,1017.61L298.54,1017.74L299.69,1017.88L300.84,1018.01L302,1018.13L303.15,1018.26L304.3,1018.38L305.46,1018.5L306.61,1018.63L307.77,1018.74L308.92,1018.86L310.08,1018.98L311.24,1019.09L312.39,1019.2L313.55,1019.31L314.7,1019.42L315.86,1019.53L317.02,1019.63L318.18,1019.74L319.33,1019.84L320.49,1019.94L321.65,1020.04L322.81,1020.14L323.96,1020.24L325.12,1020.33L326.28,1020.43L327.44,1020.52L328.6,1020.62L329.76,1020.71L330.92,1020.8L332.07,1020.89L333.23,1020.97L334.39,1021.06L335.55,1021.15L336.71,1021.23L337.87,1021.32L339.03,1021.4L340.19,1021.48L341.35,1021.56L342.51,1021.64L343.67,1021.72L344.83,1021.8L345.99,1021.88L347.15,1021.96L348.31,1022.04L349.47,1022.11L350.63,1022.19L351.79,1022.26L352.95,1022.34L354.11,1022.41L355.27,1022.49L356.43,1022.56L357.59,1022.63L358.75,1022.71L359.91,1022.78L361.07,1022.85L362.23,1022.92L363.39,1022.99L364.55,1023.06L365.71,1023.13L366.87,1023.2L368.03,1023.27L369.19,1023.34L370.35,1023.41L371.51,1023.48L372.67,1023.55L373.83,1023.62L374.99,1023.68L376.15,1023.75L377.3,1023.82L378.46,1023.89L379.62,1023.95L380.78,1024.02L381.94,1024.09L383.1,1024.15L384.26,1024.22L385.42,1024.28L386.58,1024.35L387.74,1024.41L388.9,1024.47L390.05,1024.54L391.21,1024.6L392.37,1024.67L393.53,1024.73L394.69,1024.79L395.85,1024.85L397.01,1024.92L398.16,1024.98L399.32,1025.04L400.48,1025.1L401.64,1025.16L402.8,1025.22L403.96,1025.28L405.12,1025.34L406.27,1025.4L407.43,1025.46L408.59,1025.52L409.75,1025.58L410.91,1025.64L412.07,1025.69L413.22,1025.75L414.38,1025.81L415.54,1025.87L416.7,1025.92L417.86,1025.98L419.01,1026.04L420.17,1026.09L421.33,1026.15L422.49,1026.2L423.65,1026.26L424.8,1026.31L425.96,1026.37L427.12,1026.42L428.28,1026.48L429.43,1026.53L430.59,1026.58L431.75,1026.64L432.91,1026.69L434.07,1026.74L435.22,1026.8L436.38,1026.85L437.54,1026.9L438.7,1026.95L439.85,1027L441.01,1027.05L442.17,1027.1L443.33,1027.15L444.48,1027.21L445.64,1027.25L446.8,1027.3L447.96,1027.35L449.11,1027.4L450.27,1027.45L451.43,1027.5L452.58,1027.55L453.74,1027.6L454.9,1027.64L456.06,1027.69L457.21,1027.74L458.37,1027.79L459.53,1027.83L460.69,1027.88L461.84,1027.93L463,1027.97L464.16,1028.02L465.31,1028.06L466.47,1028.11L467.63,1028.15L468.79,1028.2L469.94,1028.24L471.1,1028.28L472.26,1028.33L473.41,1028.37L474.57,1028.42L475.73,1028.46L476.89,1028.5L478.04,1028.54L479.2,1028.59L480.36,1028.63L481.51,1028.67L482.67,1028.71L483.83,1028.75L484.98,1028.79L486.14,1028.83L487.3,1028.87L488.46,1028.92L489.61,1028.96L490.77,1028.99L491.93,1029.03L493.08,1029.07L494.24,1029.11L495.4,1029.15L496.55,1029.19L497.71,1029.23L498.87,1029.27L500.03,1029.3L501.18,1029.34L502.34,1029.38L503.5,1029.42L504.65,1029.45L505.81,1029.49L506.97,1029.53L508.12,1029.56L509.28,1029.6L510.44,1029.63L511.59,1029.67L512.75,1029.7L513.91,1029.74L515.07,1029.77L516.22,1029.81L517.38,1029.84L518.54,1029.88L519.69,1029.91L520.85,1029.94L522.01,1029.98L523.16,1030.01L524.32,1030.04L525.48,1030.08L526.63,1030.11L527.79,1030.14L528.95,1030.17L530.11,1030.21L531.26,1030.24L532.42,1030.27L533.58,1030.3L534.73,1030.33L535.89,1030.36L537.05,1030.39L538.21,1030.42L539.36,1030.45L540.52,1030.48L541.68,1030.51L542.83,1030.54L543.99,1030.57L545.15,1030.6L546.3,1030.63L547.46,1030.66L548.62,1030.68L549.78,1030.71L550.93,1030.74L552.09,1030.77L553.25,1030.8L554.41,1030.82L555.56,1030.85L556.72,1030.88L557.88,1030.9L559.03,1030.93L560.19,1030.96L561.35,1030.98L562.51,1031.01L563.66,1031.03L564.82,1031.06L565.98,1031.08L567.14,1031.11L568.29,1031.13L569.45,1031.16L570.61,1031.18L571.77,1031.21L572.92,1031.23L574.08,1031.26L575.24,1031.28L576.4,1031.3L577.55,1031.33L578.71,1031.35L579.87,1031.37L581.03,1031.39L582.19,1031.42L583.34,1031.44L584.5,1031.46L585.66,1031.48L586.82,1031.5L587.97,1031.53L589.13,1031.55L590.29,1031.57L591.45,1031.59L592.61,1031.61L593.76,1031.63L594.92,1031.65L596.08,1031.67L597.24,1031.69L598.4,1031.71L599.55,1031.73L600.71,1031.75L601.87,1031.77L603.03,1031.79L604.19,1031.81L605.35,1031.83L606.5,1031.85L607.66,1031.86L608.82,1031.88L609.98,1031.9L611.14,1031.92L612.3,1031.94L613.46,1031.95L614.61,1031.97L615.77,1031.99L616.93,1032.01L618.09,1032.02L619.25,1032.04L620.41,1032.06L621.57,1032.07L622.72,1032.09L623.88,1032.11L625.04,1032.12L626.2,1032.14L627.36,1032.15L628.52,1032.17L629.68,1032.18L630.84,1032.2L632,1032.21L633.16,1032.23L634.32,1032.24L635.47,1032.26L636.63,1032.27L637.79,1032.29L638.95,1032.3L640.11,1032.31L641.27,1032.33L642.43,1032.34L643.59,1032.35L644.75,1032.37L645.91,1032.38L647.07,1032.39L648.23,1032.41L649.39,1032.42L650.55,1032.43L651.71,1032.44L652.87,1032.45L654.03,1032.47L655.19,1032.48L656.35,1032.49L657.51,1032.5L658.67,1032.51L659.83,1032.52L660.99,1032.54L662.15,1032.55L663.31,1032.56L664.47,1032.57L665.63,1032.58L666.79,1032.59L667.95,1032.6L669.11,1032.61L670.28,1032.62L671.44,1032.63L672.6,1032.64L673.76,1032.65L674.92,1032.66L676.08,1032.67L677.24,1032.68L678.4,1032.69L679.56,1032.69L680.72,1032.7L681.89,1032.71L683.05,1032.72L684.21,1032.73L685.37,1032.74L686.53,1032.75L687.69,1032.75L688.85,1032.76L690.02,1032.77L691.18,1032.78L692.34,1032.78L693.5,1032.79L694.66,1032.8L695.83,1032.81L696.99,1032.81L698.15,1032.82L699.31,1032.83L700.47,1032.83L701.64,1032.84L702.8,1032.85L703.96,1032.85L705.12,1032.86L706.29,1032.86L707.45,1032.87L708.61,1032.88L709.77,1032.88L710.94,1032.89L712.1,1032.89L713.26,1032.9L714.43,1032.9L715.59,1032.91L716.75,1032.91L717.92,1032.92L719.08,1032.92L720.24,1032.93L721.41,1032.93L722.57,1032.94L723.73,1032.94L724.9,1032.95L726.06,1032.95" fill="none" stroke="#000" stroke-width="1.9"/>
</g>
<line x1="170.5" y1="839.6" x2="126" y2="865" stroke="#000" stroke-width="1.7"/>
<polygon points="117.7,869.9 126.4,860.9 130.6,867.9" fill="#000"/>
<text x="179.1" y="845.3" font-size="28.4"><tspan font-style="italic">d</tspan><tspan font-size="22" dy="8.3">c</tspan><tspan dy="-8.3"> = 4.7 nm</tspan></text>
<circle cx="459" cy="636.7" r="3.7" fill="#fff" stroke="#000" stroke-width="1.4"/>
<text x="494.5" y="645.5" font-size="28.4">experiment</text>
<line x1="428.6" y1="671.4" x2="488" y2="671.4" stroke="#000" stroke-width="2"/>
<text x="495.5" y="680.6" font-size="28.4"><tspan font-style="italic">k</tspan><tspan font-size="22" dy="7.7">et</tspan><tspan dy="-7.7"> = 2.4 cm/s</tspan></text>
<line x1="428.8" y1="714.8" x2="488" y2="714.8" stroke="#000" stroke-width="2" stroke-dasharray="8.7 8.6"/>
<text x="495.2" y="724.2" font-size="28.4">positive feedback</text>
<rect x="106.1" y="1218.2" width="618.1" height="502.4" fill="none" stroke="#000" stroke-width="2.1"/>
<line x1="96.1" y1="1720.6" x2="106.1" y2="1720.6" stroke="#000" stroke-width="2"/>
<text x="89.9" y="1729.6" font-size="29.5" text-anchor="end">0</text>
<line x1="101.1" y1="1648.83" x2="106.1" y2="1648.83" stroke="#000" stroke-width="2"/>
<line x1="96.1" y1="1577.06" x2="106.1" y2="1577.06" stroke="#000" stroke-width="2"/>
<text x="89.9" y="1586.06" font-size="29.5" text-anchor="end">2</text>
<line x1="101.1" y1="1505.29" x2="106.1" y2="1505.29" stroke="#000" stroke-width="2"/>
<line x1="96.1" y1="1433.51" x2="106.1" y2="1433.51" stroke="#000" stroke-width="2"/>
<text x="89.9" y="1442.51" font-size="29.5" text-anchor="end">4</text>
<line x1="101.1" y1="1361.74" x2="106.1" y2="1361.74" stroke="#000" stroke-width="2"/>
<line x1="96.1" y1="1289.97" x2="106.1" y2="1289.97" stroke="#000" stroke-width="2"/>
<text x="89.9" y="1298.97" font-size="29.5" text-anchor="end">6</text>
<line x1="101.1" y1="1218.2" x2="106.1" y2="1218.2" stroke="#000" stroke-width="2"/>
<line x1="106.1" y1="1720.6" x2="106.1" y2="1730.6" stroke="#000" stroke-width="2"/>
<text x="106.3" y="1760" font-size="29.5" text-anchor="middle">0</text>
<line x1="205.79" y1="1720.6" x2="205.79" y2="1725.6" stroke="#000" stroke-width="2"/>
<line x1="305.49" y1="1720.6" x2="305.49" y2="1730.6" stroke="#000" stroke-width="2"/>
<text x="305.69" y="1760" font-size="29.5" text-anchor="middle">1</text>
<line x1="405.18" y1="1720.6" x2="405.18" y2="1725.6" stroke="#000" stroke-width="2"/>
<line x1="504.87" y1="1720.6" x2="504.87" y2="1730.6" stroke="#000" stroke-width="2"/>
<text x="505.07" y="1760" font-size="29.5" text-anchor="middle">2</text>
<line x1="604.57" y1="1720.6" x2="604.57" y2="1725.6" stroke="#000" stroke-width="2"/>
<line x1="704.26" y1="1720.6" x2="704.26" y2="1730.6" stroke="#000" stroke-width="2"/>
<text x="704.46" y="1760" font-size="29.5" text-anchor="middle">3</text>
<text transform="translate(44.6,1470.9) rotate(-90)" font-size="33.45" text-anchor="middle">Normalized Tip Current</text>
<text x="415.6" y="1792.8" font-size="34" font-style="italic" text-anchor="middle">d/a</text>
<text x="0.1" y="1248.8" font-size="33.5">(C)</text>
<g clip-path="url(#clipC)">
<path d="M128.05,1216.93L128.06,1218.46L128.08,1219.99L128.1,1221.51L128.12,1223.04L128.14,1224.57L128.16,1226.09L128.19,1227.61L128.22,1229.14L128.25,1230.66L128.28,1232.18L128.32,1233.71L128.36,1235.23L128.4,1236.75L128.44,1238.27L128.48,1239.79L128.53,1241.31L128.57,1242.83L128.62,1244.35L128.68,1245.87L128.73,1247.38L128.78,1248.9L128.84,1250.42L128.9,1251.93L128.96,1253.45L129.02,1254.97L129.09,1256.48L129.16,1258L129.22,1259.51L129.29,1261.02L129.37,1262.54L129.44,1264.05L129.52,1265.57L129.59,1267.08L129.67,1268.59L129.75,1270.1L129.84,1271.61L129.92,1273.12L130.01,1274.64L130.09,1276.15L130.18,1277.66L130.27,1279.17L130.37,1280.68L130.46,1282.19L130.56,1283.7L130.66,1285.2L130.75,1286.71L130.85,1288.22L130.96,1289.73L131.06,1291.24L131.17,1292.75L131.27,1294.25L131.38,1295.76L131.49,1297.27L131.6,1298.78L131.71,1300.28L131.83,1301.79L131.94,1303.3L132.06,1304.8L132.18,1306.31L132.3,1307.81L132.42,1309.32L132.54,1310.83L132.67,1312.33L132.79,1313.84L132.92,1315.34L133.04,1316.85L133.17,1318.35L133.3,1319.86L133.43,1321.36L133.57,1322.87L133.7,1324.37L133.84,1325.88L133.97,1327.38L134.11,1328.89L134.25,1330.39L134.39,1331.89L134.53,1333.4L134.67,1334.9L134.81,1336.41L134.96,1337.91L135.1,1339.42L135.25,1340.92L135.4,1342.43L135.55,1343.93L135.7,1345.43L135.85,1346.94L136,1348.44L136.15,1349.95L136.3,1351.45L136.46,1352.96L136.61,1354.46L136.77,1355.97L136.93,1357.47L137.08,1358.98L137.24,1360.48L137.4,1361.99L137.56,1363.49L137.72,1365L137.89,1366.51L138.05,1368.01L138.21,1369.52L138.38,1371.02L138.54,1372.53L138.71,1374.04L138.88,1375.54L139.04,1377.05L139.21,1378.56L139.38,1380.07L139.55,1381.57L139.72,1383.08L139.89,1384.59L140.06,1386.1L140.24,1387.61L140.41,1389.11L140.58,1390.62L140.76,1392.13L140.93,1393.64L141.11,1395.15L141.28,1396.66L141.46,1398.17L141.64,1399.68L141.82,1401.19L142,1402.7L142.18,1404.21L142.36,1405.72L142.54,1407.23L142.73,1408.74L142.92,1410.25L143.11,1411.76L143.3,1413.27L143.49,1414.78L143.68,1416.29L143.88,1417.8L144.08,1419.31L144.28,1420.82L144.49,1422.32L144.69,1423.83L144.9,1425.34L145.12,1426.84L145.33,1428.35L145.55,1429.85L145.77,1431.36L145.99,1432.86L146.22,1434.36L146.45,1435.87L146.69,1437.37L146.92,1438.87L147.17,1440.37L147.41,1441.86L147.66,1443.36L147.91,1444.86L148.17,1446.35L148.43,1447.85L148.7,1449.34L148.97,1450.83L149.24,1452.32L149.52,1453.81L149.81,1455.3L150.09,1456.79L150.39,1458.27L150.69,1459.76L150.99,1461.24L151.3,1462.72L151.61,1464.2L151.93,1465.68L152.25,1467.16L152.58,1468.63L152.92,1470.11L153.26,1471.58L153.61,1473.05L153.96,1474.52L154.32,1475.98L154.69,1477.45L155.06,1478.91L155.44,1480.37L155.82,1481.83L156.21,1483.29L156.61,1484.74L157.02,1486.2L157.43,1487.65L157.85,1489.1L158.27,1490.54L158.7,1491.99L159.14,1493.43L159.59,1494.87L160.05,1496.31L160.51,1497.74L160.98,1499.17L161.46,1500.6L161.94,1502.03L162.44,1503.46L162.94,1504.88L163.45,1506.3L163.96,1507.72L164.49,1509.13L165.03,1510.55L165.57,1511.96L166.12,1513.36L166.68,1514.77L167.25,1516.17L167.83,1517.57L168.42,1518.96L169.01,1520.35L169.62,1521.74L170.24,1523.13L170.86,1524.51L171.5,1525.89L172.14,1527.27L172.79,1528.64L173.46,1530.01L174.13,1531.38L174.81,1532.75L175.51,1534.11L176.21,1535.46L176.92,1536.81L177.65,1538.16L178.38,1539.5L179.12,1540.84L179.88,1542.17L180.64,1543.49L181.42,1544.81L182.2,1546.12L182.99,1547.43L183.8,1548.73L184.61,1550.03L185.44,1551.31L186.27,1552.59L187.12,1553.86L187.98,1555.13L188.84,1556.38L189.72,1557.63L190.61,1558.87L191.5,1560.1L192.41,1561.32L193.33,1562.54L194.26,1563.74L195.2,1564.93L196.15,1566.12L197.11,1567.29L198.08,1568.46L199.07,1569.61L200.06,1570.75L201.06,1571.88L202.08,1573L203.1,1574.11L204.14,1575.21L205.19,1576.29L206.25,1577.36L207.32,1578.42L208.4,1579.47L209.49,1580.5L210.59,1581.52L211.7,1582.53L212.83,1583.53L213.96,1584.51L215.11,1585.47L216.27,1586.42L217.43,1587.36L218.61,1588.28L219.81,1589.19L221.01,1590.08L222.22,1590.96L223.45,1591.82L224.68,1592.66L225.93,1593.49L227.18,1594.31L228.45,1595.11L229.72,1595.89L231.01,1596.66L232.3,1597.42L233.61,1598.16L234.92,1598.89L236.24,1599.6L237.57,1600.3L238.91,1600.98L240.26,1601.65L241.61,1602.3L242.97,1602.95L244.34,1603.57L245.72,1604.19L247.1,1604.79L248.49,1605.37L249.89,1605.95L251.29,1606.51L252.7,1607.06L254.11,1607.59L255.53,1608.12L256.95,1608.63L258.38,1609.13L259.81,1609.63L261.25,1610.11L262.69,1610.58L264.13,1611.04L265.58,1611.49L267.03,1611.94L268.48,1612.37L269.94,1612.8L271.39,1613.22L272.85,1613.63L274.31,1614.03L275.77,1614.43L277.24,1614.82L278.7,1615.2L280.17,1615.58L281.64,1615.94L283.11,1616.31L284.58,1616.66L286.05,1617.01L287.52,1617.35L289,1617.68L290.47,1618.01L291.95,1618.33L293.43,1618.65L294.91,1618.96L296.39,1619.26L297.88,1619.56L299.36,1619.85L300.84,1620.14L302.33,1620.42L303.82,1620.69L305.31,1620.96L306.8,1621.22L308.29,1621.48L309.78,1621.73L311.28,1621.98L312.77,1622.22L314.27,1622.46L315.76,1622.69L317.26,1622.91L318.76,1623.14L320.26,1623.35L321.76,1623.57L323.26,1623.77L324.76,1623.98L326.26,1624.18L327.77,1624.37L329.27,1624.56L330.78,1624.75L332.28,1624.93L333.79,1625.11L335.3,1625.28L336.81,1625.45L338.32,1625.62L339.83,1625.78L341.34,1625.94L342.85,1626.1L344.36,1626.25L345.87,1626.4L347.38,1626.55L348.9,1626.69L350.41,1626.83L351.93,1626.97L353.44,1627.11L354.96,1627.24L356.47,1627.37L357.99,1627.49L359.5,1627.62L361.02,1627.74L362.54,1627.86L364.06,1627.98L365.57,1628.09L367.09,1628.2L368.61,1628.31L370.13,1628.42L371.65,1628.53L373.17,1628.64L374.69,1628.74L376.21,1628.84L377.73,1628.94L379.25,1629.04L380.76,1629.14L382.28,1629.24L383.8,1629.33L385.32,1629.43L386.84,1629.52L388.36,1629.61L389.88,1629.7L391.4,1629.79L392.92,1629.88L394.44,1629.97L395.96,1630.06L397.48,1630.15L399,1630.24L400.52,1630.33L402.04,1630.42L403.56,1630.51L405.08,1630.6L406.6,1630.68L408.11,1630.77L409.63,1630.86L411.15,1630.95L412.67,1631.03L414.18,1631.12L415.7,1631.21L417.22,1631.29L418.74,1631.38L420.25,1631.47L421.77,1631.55L423.29,1631.64L424.8,1631.73L426.32,1631.81L427.83,1631.9L429.35,1631.98L430.86,1632.07L432.38,1632.15L433.9,1632.24L435.41,1632.32L436.93,1632.41L438.44,1632.49L439.95,1632.57L441.47,1632.66L442.98,1632.74L444.5,1632.82L446.01,1632.91L447.53,1632.99L449.04,1633.07L450.55,1633.16L452.07,1633.24L453.58,1633.32L455.09,1633.4L456.61,1633.48L458.12,1633.56L459.63,1633.64L461.15,1633.72L462.66,1633.8L464.17,1633.88L465.68,1633.96L467.2,1634.04L468.71,1634.12L470.22,1634.2L471.73,1634.28L473.24,1634.36L474.76,1634.44L476.27,1634.51L477.78,1634.59L479.29,1634.67L480.8,1634.75L482.31,1634.82L483.83,1634.9L485.34,1634.98L486.85,1635.05L488.36,1635.13L489.87,1635.2L491.38,1635.28L492.89,1635.35L494.4,1635.42L495.91,1635.5L497.43,1635.57L498.94,1635.65L500.45,1635.72L501.96,1635.79L503.47,1635.86L504.98,1635.93L506.49,1636.01L508,1636.08L509.51,1636.15L511.02,1636.22L512.53,1636.29L514.04,1636.36L515.55,1636.43L517.06,1636.5L518.57,1636.56L520.08,1636.63L521.59,1636.7L523.1,1636.77L524.61,1636.84L526.12,1636.9L527.63,1636.97L529.14,1637.03L530.65,1637.1L532.16,1637.16L533.67,1637.23L535.18,1637.29L536.69,1637.36L538.2,1637.42L539.71,1637.48L541.22,1637.55L542.73,1637.61L544.24,1637.67L545.75,1637.73L547.26,1637.79L548.77,1637.85L550.28,1637.91L551.79,1637.97L553.3,1638.03L554.81,1638.09L556.32,1638.15L557.83,1638.21L559.34,1638.27L560.85,1638.32L562.36,1638.38L563.87,1638.44L565.38,1638.49L566.89,1638.55L568.4,1638.6L569.91,1638.65L571.42,1638.71L572.93,1638.76L574.44,1638.81L575.95,1638.87L577.46,1638.92L578.97,1638.97L580.48,1639.02L581.99,1639.07L583.5,1639.12L585.01,1639.17L586.52,1639.22L588.03,1639.27L589.54,1639.32L591.05,1639.36L592.57,1639.41L594.08,1639.46L595.59,1639.5L597.1,1639.55L598.61,1639.59L600.12,1639.64L601.63,1639.68L603.14,1639.72L604.66,1639.77L606.17,1639.81L607.68,1639.85L609.19,1639.89L610.7,1639.93L612.21,1639.97L613.73,1640.01L615.24,1640.05L616.75,1640.09L618.26,1640.13L619.78,1640.16L621.29,1640.2L622.8,1640.24L624.31,1640.27L625.83,1640.31L627.34,1640.34L628.85,1640.37L630.37,1640.41L631.88,1640.44L633.39,1640.47L634.91,1640.5L636.42,1640.53L637.94,1640.56L639.45,1640.59L640.96,1640.62L642.48,1640.65L643.99,1640.68L645.51,1640.71L647.02,1640.73L648.54,1640.76L650.05,1640.78L651.57,1640.81L653.08,1640.83L654.6,1640.85L656.12,1640.88L657.63,1640.9L659.15,1640.92L660.66,1640.94L662.18,1640.96L663.7,1640.98L665.21,1641L666.73,1641.02L668.25,1641.04L669.76,1641.05L671.28,1641.07L672.8,1641.08L674.32,1641.1L675.84,1641.11L677.35,1641.13L678.87,1641.14L680.39,1641.15L681.91,1641.16L683.43,1641.17L684.95,1641.18L686.47,1641.19L687.99,1641.2L689.51,1641.21L691.03,1641.22L692.55,1641.22L694.07,1641.23L695.59,1641.23L697.11,1641.24L698.63,1641.24L700.15,1641.24L701.67,1641.25L703.19,1641.25L704.71,1641.25L706.24,1641.25L707.76,1641.25L709.28,1641.25L710.8,1641.25L712.33,1641.24L713.85,1641.24L715.37,1641.23L716.9,1641.23L718.42,1641.22L719.95,1641.22L721.47,1641.21L723,1641.2L724.52,1641.19L726.05,1641.18" fill="none" stroke="#000" stroke-width="2"/>
<circle cx="726.69" cy="1642.44" r="3.7" fill="#fff" stroke="#000" stroke-width="1.4"/>
<circle cx="722.41" cy="1641.58" r="3.7" fill="#fff" stroke="#000" stroke-width="1.4"/>
<circle cx="718.39" cy="1642.08" r="3.7" fill="#fff" stroke="#000" stroke-width="1.4"/>
<circle cx="713.82" cy="1642.1" r="3.7" fill="#fff" stroke="#000" stroke-width="1.4"/>
<circle cx="710.06" cy="1641.57" r="3.7" fill="#fff" stroke="#000" stroke-width="1.4"/>
<circle cx="705.65" cy="1641.7" r="3.7" fill="#fff" stroke="#000" stroke-width="1.4"/>
<circle cx="701.26" cy="1641.31" r="3.7" fill="#fff" stroke="#000" stroke-width="1.4"/>
<circle cx="697.33" cy="1642.48" r="3.7" fill="#fff" stroke="#000" stroke-width="1.4"/>
<circle cx="693.22" cy="1641.51" r="3.7" fill="#fff" stroke="#000" stroke-width="1.4"/>
<circle cx="689.03" cy="1641.5" r="3.7" fill="#fff" stroke="#000" stroke-width="1.4"/>
<circle cx="684.82" cy="1640.5" r="3.7" fill="#fff" stroke="#000" stroke-width="1.4"/>
<circle cx="680.56" cy="1644.16" r="3.7" fill="#fff" stroke="#000" stroke-width="1.4"/>
<circle cx="676.49" cy="1640.16" r="3.7" fill="#fff" stroke="#000" stroke-width="1.4"/>
<circle cx="671.74" cy="1643.61" r="3.7" fill="#fff" stroke="#000" stroke-width="1.4"/>
<circle cx="667.95" cy="1641.88" r="3.7" fill="#fff" stroke="#000" stroke-width="1.4"/>
<circle cx="663.48" cy="1640.84" r="3.7" fill="#fff" stroke="#000" stroke-width="1.4"/>
<circle cx="659.19" cy="1641.64" r="3.7" fill="#fff" stroke="#000" stroke-width="1.4"/>
<circle cx="655.35" cy="1640.65" r="3.7" fill="#fff" stroke="#000" stroke-width="1.4"/>
<circle cx="650.75" cy="1639.15" r="3.7" fill="#fff" stroke="#000" stroke-width="1.4"/>
<circle cx="646.67" cy="1641.01" r="3.7" fill="#fff" stroke="#000" stroke-width="1.4"/>
<circle cx="642.48" cy="1641.32" r="3.7" fill="#fff" stroke="#000" stroke-width="1.4"/>
<circle cx="638.62" cy="1640.81" r="3.7" fill="#fff" stroke="#000" stroke-width="1.4"/>
<circle cx="634.48" cy="1638.59" r="3.7" fill="#fff" stroke="#000" stroke-width="1.4"/>
<circle cx="629.7" cy="1639.29" r="3.7" fill="#fff" stroke="#000" stroke-width="1.4"/>
<circle cx="625.7" cy="1639.85" r="3.7" fill="#fff" stroke="#000" stroke-width="1.4"/>
<circle cx="621.79" cy="1641.87" r="3.7" fill="#fff" stroke="#000" stroke-width="1.4"/>
<circle cx="617.28" cy="1639.45" r="3.7" fill="#fff" stroke="#000" stroke-width="1.4"/>
<circle cx="613.01" cy="1642.36" r="3.7" fill="#fff" stroke="#000" stroke-width="1.4"/>
<circle cx="608.73" cy="1639.75" r="3.7" fill="#fff" stroke="#000" stroke-width="1.4"/>
<circle cx="604.54" cy="1638.03" r="3.7" fill="#fff" stroke="#000" stroke-width="1.4"/>
<circle cx="600.9" cy="1638.61" r="3.7" fill="#fff" stroke="#000" stroke-width="1.4"/>
<circle cx="596.67" cy="1639.66" r="3.7" fill="#fff" stroke="#000" stroke-width="1.4"/>
<circle cx="592.15" cy="1640.78" r="3.7" fill="#fff" stroke="#000" stroke-width="1.4"/>
<circle cx="587.89" cy="1638.94" r="3.7" fill="#fff" stroke="#000" stroke-width="1.4"/>
<circle cx="583.67" cy="1639.22" r="3.7" fill="#fff" stroke="#000" stroke-width="1.4"/>
<circle cx="579.58" cy="1638.38" r="3.7" fill="#fff" stroke="#000" stroke-width="1.4"/>
<circle cx="575.41" cy="1641.79" r="3.7" fill="#fff" stroke="#000" stroke-width="1.4"/>
<circle cx="571.28" cy="1637.82" r="3.7" fill="#fff" stroke="#000" stroke-width="1.4"/>
<circle cx="567.17" cy="1638.26" r="3.7" fill="#fff" stroke="#000" stroke-width="1.4"/>
<circle cx="562.75" cy="1639.78" r="3.7" fill="#fff" stroke="#000" stroke-width="1.4"/>
<circle cx="558.9" cy="1636.77" r="3.7" fill="#fff" stroke="#000" stroke-width="1.4"/>
<circle cx="554.54" cy="1638.54" r="3.7" fill="#fff" stroke="#000" stroke-width="1.4"/>
<circle cx="550.24" cy="1638.17" r="3.7" fill="#fff" stroke="#000" stroke-width="1.4"/>
<circle cx="546.01" cy="1637.27" r="3.7" fill="#fff" stroke="#000" stroke-width="1.4"/>
<circle cx="542.02" cy="1638.27" r="3.7" fill="#fff" stroke="#000" stroke-width="1.4"/>
<circle cx="537.68" cy="1638.47" r="3.7" fill="#fff" stroke="#000" stroke-width="1.4"/>
<circle cx="533.18" cy="1637.39" r="3.7" fill="#fff" stroke="#000" stroke-width="1.4"/>
<circle cx="529.38" cy="1636.17" r="3.7" fill="#fff" stroke="#000" stroke-width="1.4"/>
<circle cx="524.77" cy="1636.29" r="3.7" fill="#fff" stroke="#000" stroke-width="1.4"/>
<circle cx="520.86" cy="1636.2" r="3.7" fill="#fff" stroke="#000" stroke-width="1.4"/>
<circle cx="516.35" cy="1635.9" r="3.7" fill="#fff" stroke="#000" stroke-width="1.4"/>
<circle cx="512.2" cy="1635.34" r="3.7" fill="#fff" stroke="#000" stroke-width="1.4"/>
<circle cx="508.48" cy="1636.38" r="3.7" fill="#fff" stroke="#000" stroke-width="1.4"/>
<circle cx="503.72" cy="1635.65" r="3.7" fill="#fff" stroke="#000" stroke-width="1.4"/>
<circle cx="499.58" cy="1633.96" r="3.7" fill="#fff" stroke="#000" stroke-width="1.4"/>
<circle cx="495.7" cy="1634.18" r="3.7" fill="#fff" stroke="#000" stroke-width="1.4"/>
<circle cx="491.4" cy="1635.83" r="3.7" fill="#fff" stroke="#000" stroke-width="1.4"/>
<circle cx="487.44" cy="1636.02" r="3.7" fill="#fff" stroke="#000" stroke-width="1.4"/>
<circle cx="483.13" cy="1634.7" r="3.7" fill="#fff" stroke="#000" stroke-width="1.4"/>
<circle cx="479.04" cy="1636.93" r="3.7" fill="#fff" stroke="#000" stroke-width="1.4"/>
<circle cx="474.54" cy="1636.95" r="3.7" fill="#fff" stroke="#000" stroke-width="1.4"/>
<circle cx="470.5" cy="1635.11" r="3.7" fill="#fff" stroke="#000" stroke-width="1.4"/>
<circle cx="466.16" cy="1633.66" r="3.7" fill="#fff" stroke="#000" stroke-width="1.4"/>
<circle cx="462.05" cy="1633.87" r="3.7" fill="#fff" stroke="#000" stroke-width="1.4"/>
<circle cx="457.58" cy="1633.13" r="3.7" fill="#fff" stroke="#000" stroke-width="1.4"/>
<circle cx="453.31" cy="1633.64" r="3.7" fill="#fff" stroke="#000" stroke-width="1.4"/>
<circle cx="449.65" cy="1633.26" r="3.7" fill="#fff" stroke="#000" stroke-width="1.4"/>
<circle cx="444.98" cy="1633.92" r="3.7" fill="#fff" stroke="#000" stroke-width="1.4"/>
<circle cx="440.87" cy="1633.14" r="3.7" fill="#fff" stroke="#000" stroke-width="1.4"/>
<circle cx="436.62" cy="1632.75" r="3.7" fill="#fff" stroke="#000" stroke-width="1.4"/>
<circle cx="432.67" cy="1632.51" r="3.7" fill="#fff" stroke="#000" stroke-width="1.4"/>
<circle cx="428.62" cy="1632.41" r="3.7" fill="#fff" stroke="#000" stroke-width="1.4"/>
<circle cx="424.48" cy="1631.3" r="3.7" fill="#fff" stroke="#000" stroke-width="1.4"/>
<circle cx="420.18" cy="1632.34" r="3.7" fill="#fff" stroke="#000" stroke-width="1.4"/>
<circle cx="416.09" cy="1631.5" r="3.7" fill="#fff" stroke="#000" stroke-width="1.4"/>
<circle cx="411.7" cy="1630.44" r="3.7" fill="#fff" stroke="#000" stroke-width="1.4"/>
<circle cx="407.47" cy="1628.97" r="3.7" fill="#fff" stroke="#000" stroke-width="1.4"/>
<circle cx="402.94" cy="1630.89" r="3.7" fill="#fff" stroke="#000" stroke-width="1.4"/>
<circle cx="398.93" cy="1631.19" r="3.7" fill="#fff" stroke="#000" stroke-width="1.4"/>
<circle cx="394.98" cy="1631.24" r="3.7" fill="#fff" stroke="#000" stroke-width="1.4"/>
<circle cx="390.86" cy="1630.93" r="3.7" fill="#fff" stroke="#000" stroke-width="1.4"/>
<circle cx="386.3" cy="1628.03" r="3.7" fill="#fff" stroke="#000" stroke-width="1.4"/>
<circle cx="382.07" cy="1631.58" r="3.7" fill="#fff" stroke="#000" stroke-width="1.4"/>
<circle cx="377.87" cy="1630.26" r="3.7" fill="#fff" stroke="#000" stroke-width="1.4"/>
<circle cx="373.78" cy="1631.45" r="3.7" fill="#fff" stroke="#000" stroke-width="1.4"/>
<circle cx="369.88" cy="1630.11" r="3.7" fill="#fff" stroke="#000" stroke-width="1.4"/>
<circle cx="365.2" cy="1628.78" r="3.7" fill="#fff" stroke="#000" stroke-width="1.4"/>
<circle cx="361.08" cy="1627.82" r="3.7" fill="#fff" stroke="#000" stroke-width="1.4"/>
<circle cx="356.93" cy="1627.93" r="3.7" fill="#fff" stroke="#000" stroke-width="1.4"/>
<circle cx="352.51" cy="1627.03" r="3.7" fill="#fff" stroke="#000" stroke-width="1.4"/>
<circle cx="348.33" cy="1627.11" r="3.7" fill="#fff" stroke="#000" stroke-width="1.4"/>
<circle cx="344.36" cy="1626.11" r="3.7" fill="#fff" stroke="#000" stroke-width="1.4"/>
<circle cx="340.22" cy="1626.73" r="3.7" fill="#fff" stroke="#000" stroke-width="1.4"/>
<circle cx="335.98" cy="1627.05" r="3.7" fill="#fff" stroke="#000" stroke-width="1.4"/>
<circle cx="331.92" cy="1625.03" r="3.7" fill="#fff" stroke="#000" stroke-width="1.4"/>
<circle cx="327.79" cy="1624.78" r="3.7" fill="#fff" stroke="#000" stroke-width="1.4"/>
<circle cx="323.45" cy="1623.2" r="3.7" fill="#fff" stroke="#000" stroke-width="1.4"/>
<circle cx="319.27" cy="1624.9" r="3.7" fill="#fff" stroke="#000" stroke-width="1.4"/>
<circle cx="314.94" cy="1624.25" r="3.7" fill="#fff" stroke="#000" stroke-width="1.4"/>
<circle cx="310.57" cy="1622.67" r="3.7" fill="#fff" stroke="#000" stroke-width="1.4"/>
<circle cx="306.87" cy="1621.03" r="3.7" fill="#fff" stroke="#000" stroke-width="1.4"/>
<circle cx="302.4" cy="1621.96" r="3.7" fill="#fff" stroke="#000" stroke-width="1.4"/>
<circle cx="297.93" cy="1620.22" r="3.7" fill="#fff" stroke="#000" stroke-width="1.4"/>
<circle cx="294.29" cy="1620.23" r="3.7" fill="#fff" stroke="#000" stroke-width="1.4"/>
<circle cx="289.56" cy="1617.79" r="3.7" fill="#fff" stroke="#000" stroke-width="1.4"/>
<circle cx="285.86" cy="1617.5" r="3.7" fill="#fff" stroke="#000" stroke-width="1.4"/>
<circle cx="281.29" cy="1616.64" r="3.7" fill="#fff" stroke="#000" stroke-width="1.4"/>
<circle cx="277.42" cy="1615.55" r="3.7" fill="#fff" stroke="#000" stroke-width="1.4"/>
<circle cx="273.13" cy="1614.16" r="3.7" fill="#fff" stroke="#000" stroke-width="1.4"/>
<circle cx="268.77" cy="1611.64" r="3.7" fill="#fff" stroke="#000" stroke-width="1.4"/>
<circle cx="264.6" cy="1611.79" r="3.7" fill="#fff" stroke="#000" stroke-width="1.4"/>
<circle cx="260.34" cy="1611.04" r="3.7" fill="#fff" stroke="#000" stroke-width="1.4"/>
<circle cx="256.05" cy="1610.83" r="3.7" fill="#fff" stroke="#000" stroke-width="1.4"/>
<circle cx="252.21" cy="1608.5" r="3.7" fill="#fff" stroke="#000" stroke-width="1.4"/>
<circle cx="247.61" cy="1605.68" r="3.7" fill="#fff" stroke="#000" stroke-width="1.4"/>
<circle cx="243.77" cy="1604.48" r="3.7" fill="#fff" stroke="#000" stroke-width="1.4"/>
<circle cx="239.52" cy="1600.81" r="3.7" fill="#fff" stroke="#000" stroke-width="1.4"/>
<circle cx="234.94" cy="1599.38" r="3.7" fill="#fff" stroke="#000" stroke-width="1.4"/>
<circle cx="230.71" cy="1596.85" r="3.7" fill="#fff" stroke="#000" stroke-width="1.4"/>
<circle cx="227.7" cy="1596.5" r="3.7" fill="#fff" stroke="#000" stroke-width="1.4"/>
<circle cx="224" cy="1595.3" r="3.7" fill="#fff" stroke="#000" stroke-width="1.4"/>
<circle cx="219.6" cy="1592.2" r="3.7" fill="#fff" stroke="#000" stroke-width="1.4"/>
<circle cx="217.2" cy="1589.1" r="3.7" fill="#fff" stroke="#000" stroke-width="1.4"/>
<circle cx="214.1" cy="1586.7" r="3.7" fill="#fff" stroke="#000" stroke-width="1.4"/>
<circle cx="210.4" cy="1583" r="3.7" fill="#fff" stroke="#000" stroke-width="1.4"/>
<circle cx="206.7" cy="1584.2" r="3.7" fill="#fff" stroke="#000" stroke-width="1.4"/>
<circle cx="203" cy="1579.3" r="3.7" fill="#fff" stroke="#000" stroke-width="1.4"/>
<circle cx="199.3" cy="1576.8" r="3.7" fill="#fff" stroke="#000" stroke-width="1.4"/>
<circle cx="197.4" cy="1569.4" r="3.7" fill="#fff" stroke="#000" stroke-width="1.4"/>
<circle cx="191.9" cy="1568.1" r="3.7" fill="#fff" stroke="#000" stroke-width="1.4"/>
<circle cx="189.4" cy="1565.7" r="3.7" fill="#fff" stroke="#000" stroke-width="1.4"/>
<circle cx="186.3" cy="1562" r="3.7" fill="#fff" stroke="#000" stroke-width="1.4"/>
<circle cx="183.2" cy="1555.8" r="3.7" fill="#fff" stroke="#000" stroke-width="1.4"/>
<circle cx="181.4" cy="1545.9" r="3.7" fill="#fff" stroke="#000" stroke-width="1.4"/>
<circle cx="177.7" cy="1545.9" r="3.7" fill="#fff" stroke="#000" stroke-width="1.4"/>
<circle cx="174.3" cy="1536" r="3.7" fill="#fff" stroke="#000" stroke-width="1.4"/>
<circle cx="172.1" cy="1529.3" r="3.7" fill="#fff" stroke="#000" stroke-width="1.4"/>
<circle cx="167.8" cy="1534.8" r="3.7" fill="#fff" stroke="#000" stroke-width="1.4"/>
<circle cx="165.3" cy="1521.2" r="3.7" fill="#fff" stroke="#000" stroke-width="1.4"/>
<circle cx="162.8" cy="1505.2" r="3.7" fill="#fff" stroke="#000" stroke-width="1.4"/>
<circle cx="159.8" cy="1502.7" r="3.7" fill="#fff" stroke="#000" stroke-width="1.4"/>
<circle cx="158.5" cy="1474.9" r="3.7" fill="#fff" stroke="#000" stroke-width="1.4"/>
<circle cx="156" cy="1474.9" r="3.7" fill="#fff" stroke="#000" stroke-width="1.4"/>
<circle cx="150.5" cy="1474.3" r="3.7" fill="#fff" stroke="#000" stroke-width="1.4"/>
<circle cx="149.3" cy="1448.6" r="3.7" fill="#fff" stroke="#000" stroke-width="1.4"/>
<circle cx="146.7" cy="1397.1" r="3.7" fill="#fff" stroke="#000" stroke-width="1.4"/>
<circle cx="143.3" cy="1372.8" r="3.7" fill="#fff" stroke="#000" stroke-width="1.4"/>
<circle cx="141.7" cy="1277.7" r="3.7" fill="#fff" stroke="#000" stroke-width="1.4"/>
<circle cx="138" cy="1326" r="3.7" fill="#fff" stroke="#000" stroke-width="1.4"/>
<circle cx="134.9" cy="1272" r="3.7" fill="#fff" stroke="#000" stroke-width="1.4"/>
</g>
<line x1="163.1" y1="1305.3" x2="146" y2="1285" stroke="#000" stroke-width="1.7"/>
<polygon points="140.1,1278.5 150.4,1285.7 145.2,1289.8" fill="#000"/>
<text x="170.3" y="1320.5" font-size="28.4"><tspan font-style="italic">d</tspan><tspan font-size="22" dy="8.3">c</tspan><tspan dy="-8.3"> = 20 nm</tspan></text>
<circle cx="457.8" cy="1245.2" r="3.7" fill="#fff" stroke="#000" stroke-width="1.4"/>
<text x="486" y="1252.5" font-size="28.4">experiment</text>
<line x1="428.6" y1="1279.3" x2="487.4" y2="1279.3" stroke="#000" stroke-width="2"/>
<text x="494.7" y="1286.2" font-size="28.4">positive feedback</text>
</svg>
</body></html>
